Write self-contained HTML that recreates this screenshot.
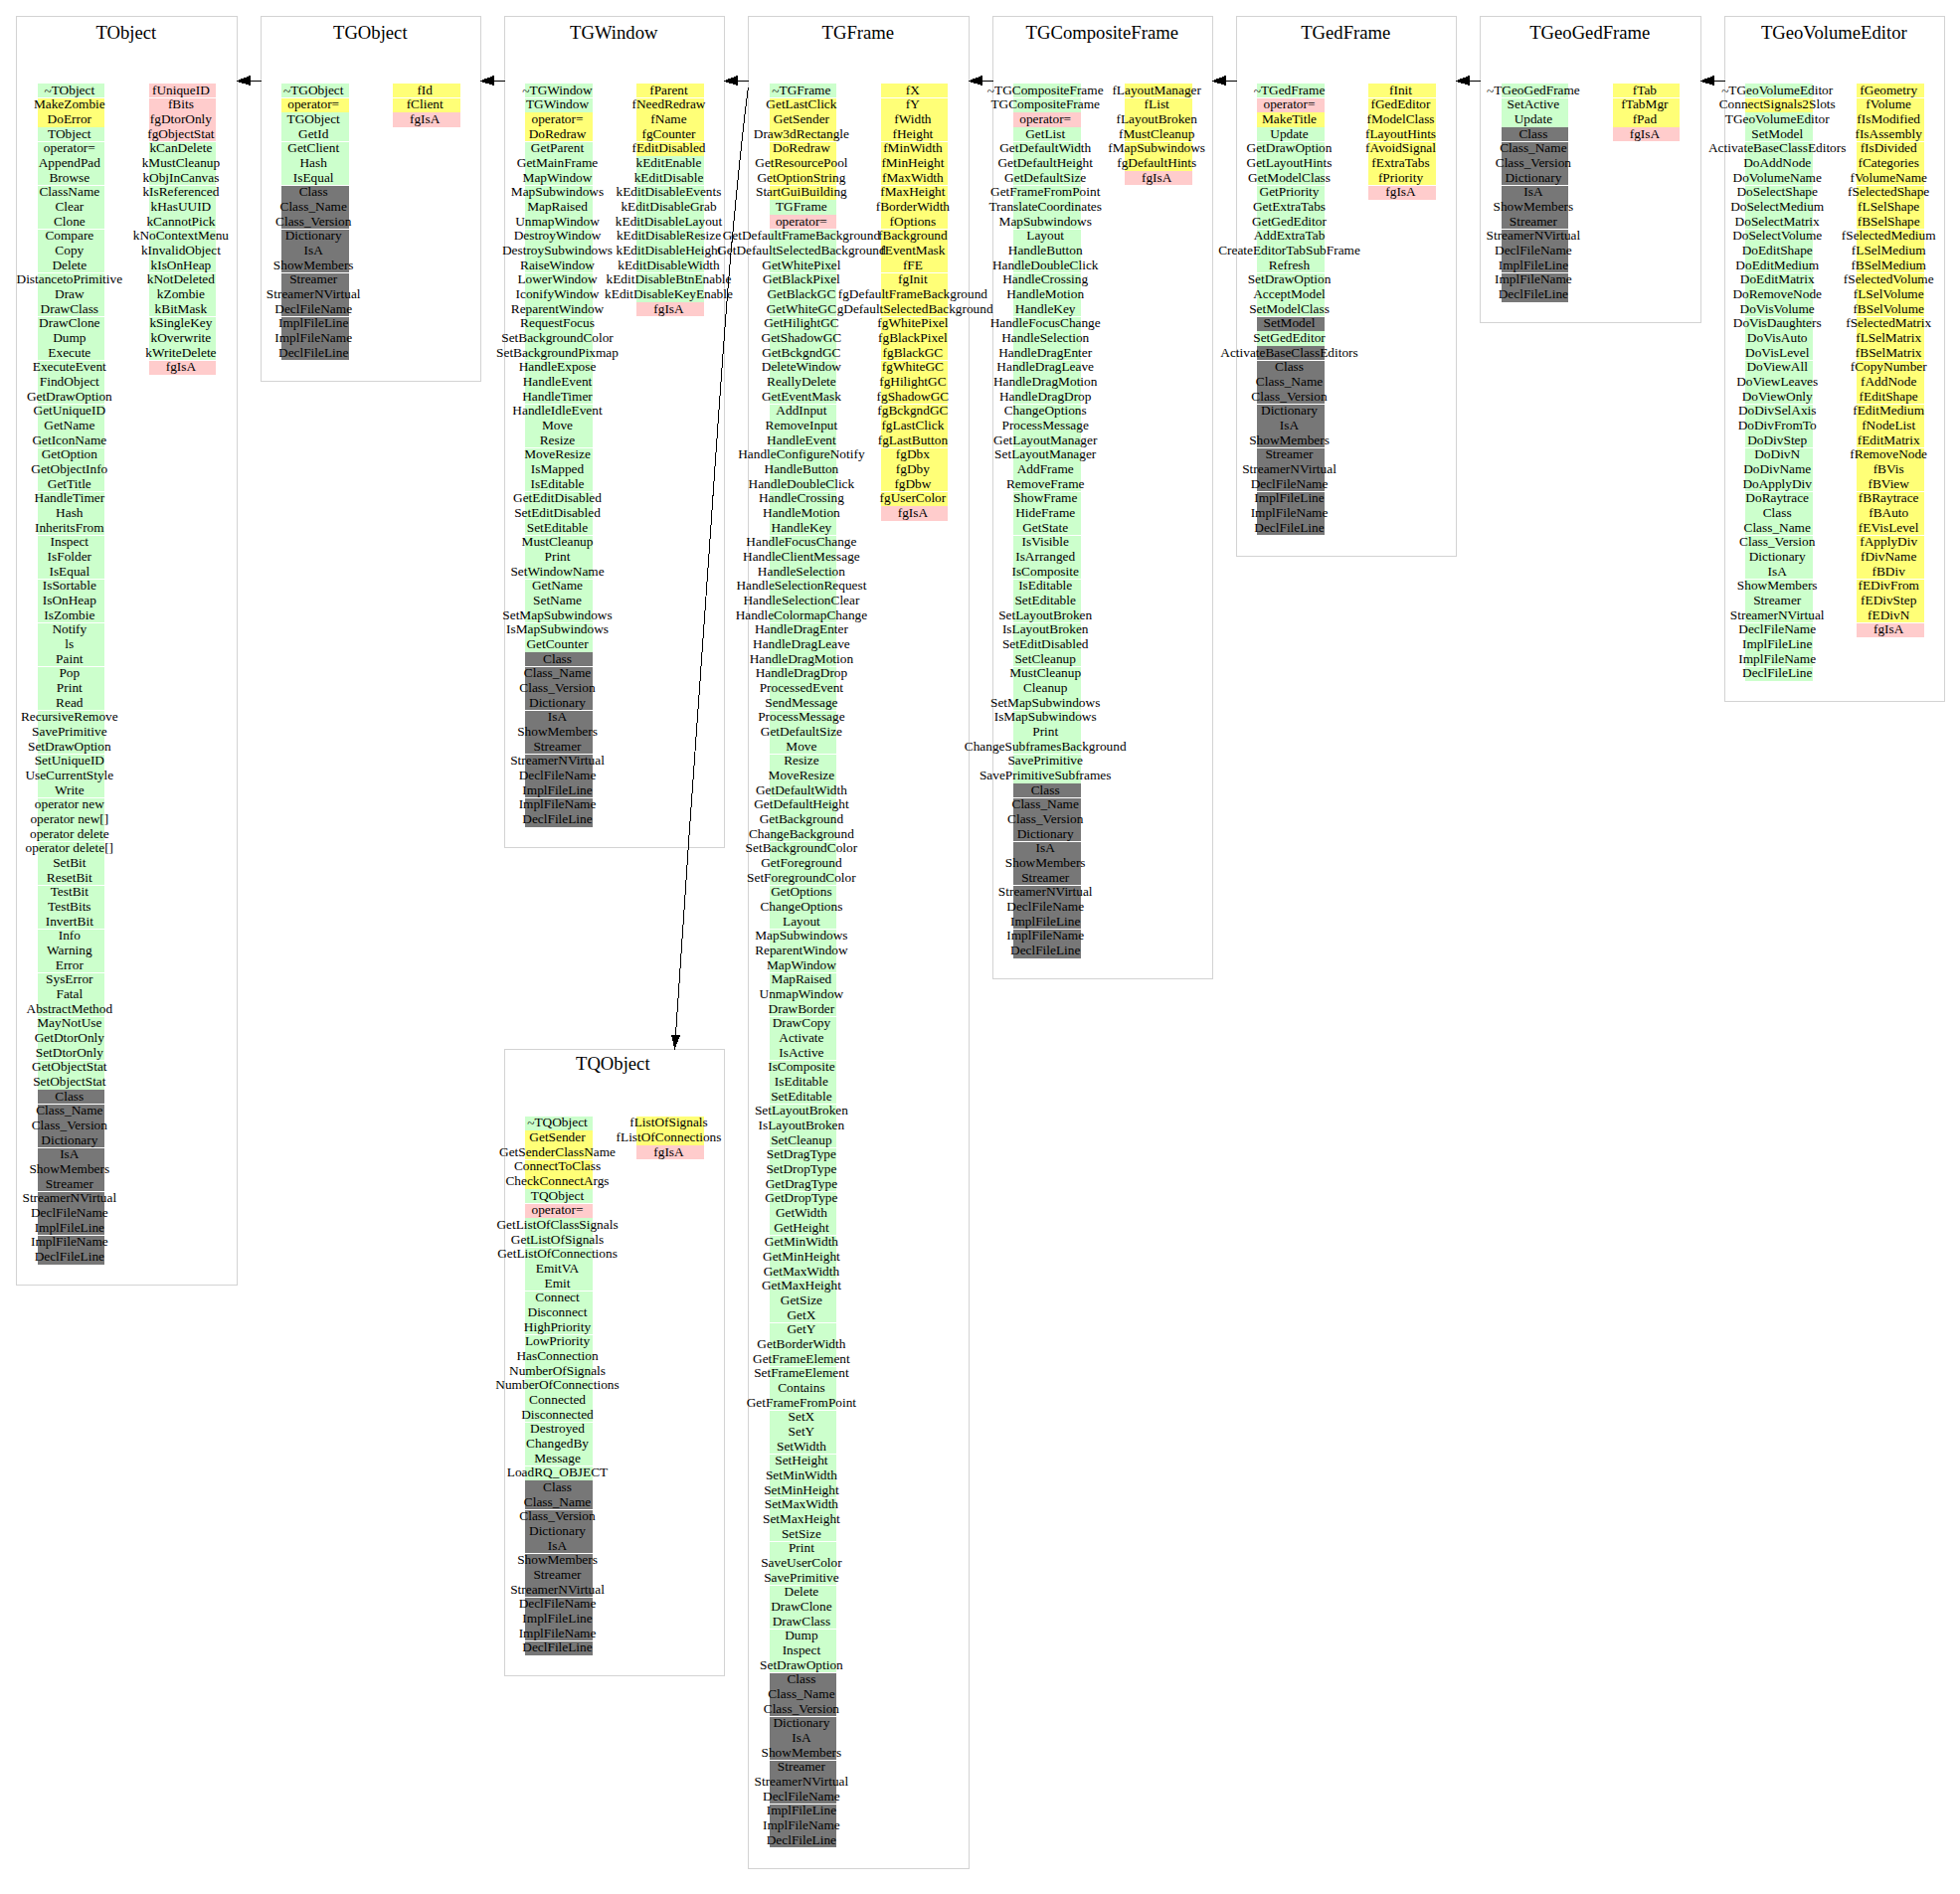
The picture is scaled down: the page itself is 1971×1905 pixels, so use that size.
<!DOCTYPE html>
<html><head><meta charset="utf-8"><title>TGeoVolumeEditor inheritance</title>
<style>
html,body{margin:0;padding:0;background:#fff;}
body{width:1971px;height:1905px;position:relative;overflow:hidden;font-family:"Liberation Serif",serif;color:#000;}
.b{position:absolute;border:1px solid #d3d3d3;box-sizing:border-box;}
.t{position:absolute;text-align:center;white-space:nowrap;font-size:18.67px;line-height:22px;height:22px;}
.r{position:absolute;}
.g{background:#ccffcc}.y{background:#ffff77}.p{background:#ffcccc}.k{background:#777777}
.x{position:absolute;width:300px;text-align:center;white-space:nowrap;font-size:13.33px;line-height:15px;height:15px;}
svg{position:absolute;left:0;top:0;}
.z{position:relative;top:1px;}
#tx{position:absolute;left:0;top:0;width:1971px;height:1905px;opacity:0.999;}
</style></head><body>
<div class="b" style="left:16px;top:16px;width:223px;height:1277px"></div>
<div class="b" style="left:262px;top:16px;width:222px;height:368px"></div>
<div class="b" style="left:507px;top:16px;width:222px;height:837px"></div>
<div class="b" style="left:752px;top:16px;width:223px;height:1864px"></div>
<div class="b" style="left:998px;top:16px;width:222px;height:969px"></div>
<div class="b" style="left:1243px;top:16px;width:222px;height:544px"></div>
<div class="b" style="left:1488px;top:16px;width:223px;height:309px"></div>
<div class="b" style="left:1734px;top:16px;width:222px;height:690px"></div>
<div class="b" style="left:507px;top:1055px;width:222px;height:631px"></div>
<div class="r p" style="left:150px;top:84px;width:67px;height:14px"></div>
<div class="r p" style="left:150px;top:99px;width:67px;height:14px"></div>
<div class="r p" style="left:150px;top:113px;width:67px;height:15px"></div>
<div class="r p" style="left:150px;top:128px;width:67px;height:14px"></div>
<div class="r g" style="left:150px;top:143px;width:67px;height:14px"></div>
<div class="r g" style="left:150px;top:157px;width:67px;height:15px"></div>
<div class="r g" style="left:150px;top:172px;width:67px;height:14px"></div>
<div class="r g" style="left:150px;top:187px;width:67px;height:14px"></div>
<div class="r g" style="left:150px;top:201px;width:67px;height:15px"></div>
<div class="r g" style="left:150px;top:216px;width:67px;height:14px"></div>
<div class="r g" style="left:150px;top:231px;width:67px;height:14px"></div>
<div class="r g" style="left:150px;top:245px;width:67px;height:15px"></div>
<div class="r g" style="left:150px;top:260px;width:67px;height:14px"></div>
<div class="r g" style="left:150px;top:275px;width:67px;height:14px"></div>
<div class="r g" style="left:150px;top:289px;width:67px;height:15px"></div>
<div class="r g" style="left:150px;top:304px;width:67px;height:14px"></div>
<div class="r g" style="left:150px;top:319px;width:67px;height:14px"></div>
<div class="r g" style="left:150px;top:333px;width:67px;height:15px"></div>
<div class="r g" style="left:150px;top:348px;width:67px;height:14px"></div>
<div class="r p" style="left:150px;top:363px;width:67px;height:14px"></div>
<div class="r g" style="left:38px;top:84px;width:67px;height:14px"></div>
<div class="r y" style="left:38px;top:99px;width:67px;height:14px"></div>
<div class="r y" style="left:38px;top:113px;width:67px;height:15px"></div>
<div class="r g" style="left:38px;top:128px;width:67px;height:14px"></div>
<div class="r g" style="left:38px;top:143px;width:67px;height:14px"></div>
<div class="r g" style="left:38px;top:157px;width:67px;height:15px"></div>
<div class="r g" style="left:38px;top:172px;width:67px;height:14px"></div>
<div class="r g" style="left:38px;top:187px;width:67px;height:14px"></div>
<div class="r g" style="left:38px;top:201px;width:67px;height:15px"></div>
<div class="r g" style="left:38px;top:216px;width:67px;height:14px"></div>
<div class="r g" style="left:38px;top:231px;width:67px;height:14px"></div>
<div class="r g" style="left:38px;top:245px;width:67px;height:15px"></div>
<div class="r g" style="left:38px;top:260px;width:67px;height:14px"></div>
<div class="r g" style="left:38px;top:275px;width:67px;height:14px"></div>
<div class="r g" style="left:38px;top:289px;width:67px;height:15px"></div>
<div class="r g" style="left:38px;top:304px;width:67px;height:14px"></div>
<div class="r g" style="left:38px;top:319px;width:67px;height:14px"></div>
<div class="r g" style="left:38px;top:333px;width:67px;height:15px"></div>
<div class="r g" style="left:38px;top:348px;width:67px;height:14px"></div>
<div class="r g" style="left:38px;top:363px;width:67px;height:14px"></div>
<div class="r g" style="left:38px;top:377px;width:67px;height:15px"></div>
<div class="r g" style="left:38px;top:392px;width:67px;height:14px"></div>
<div class="r g" style="left:38px;top:407px;width:67px;height:14px"></div>
<div class="r g" style="left:38px;top:421px;width:67px;height:15px"></div>
<div class="r g" style="left:38px;top:436px;width:67px;height:14px"></div>
<div class="r g" style="left:38px;top:451px;width:67px;height:14px"></div>
<div class="r g" style="left:38px;top:465px;width:67px;height:15px"></div>
<div class="r g" style="left:38px;top:480px;width:67px;height:14px"></div>
<div class="r g" style="left:38px;top:495px;width:67px;height:14px"></div>
<div class="r g" style="left:38px;top:509px;width:67px;height:15px"></div>
<div class="r g" style="left:38px;top:524px;width:67px;height:14px"></div>
<div class="r g" style="left:38px;top:539px;width:67px;height:14px"></div>
<div class="r g" style="left:38px;top:553px;width:67px;height:15px"></div>
<div class="r g" style="left:38px;top:568px;width:67px;height:14px"></div>
<div class="r g" style="left:38px;top:583px;width:67px;height:14px"></div>
<div class="r g" style="left:38px;top:597px;width:67px;height:15px"></div>
<div class="r g" style="left:38px;top:612px;width:67px;height:14px"></div>
<div class="r g" style="left:38px;top:627px;width:67px;height:14px"></div>
<div class="r g" style="left:38px;top:641px;width:67px;height:15px"></div>
<div class="r g" style="left:38px;top:656px;width:67px;height:14px"></div>
<div class="r g" style="left:38px;top:671px;width:67px;height:14px"></div>
<div class="r g" style="left:38px;top:685px;width:67px;height:15px"></div>
<div class="r g" style="left:38px;top:700px;width:67px;height:14px"></div>
<div class="r g" style="left:38px;top:715px;width:67px;height:14px"></div>
<div class="r g" style="left:38px;top:729px;width:67px;height:15px"></div>
<div class="r g" style="left:38px;top:744px;width:67px;height:14px"></div>
<div class="r g" style="left:38px;top:759px;width:67px;height:14px"></div>
<div class="r g" style="left:38px;top:773px;width:67px;height:15px"></div>
<div class="r g" style="left:38px;top:788px;width:67px;height:14px"></div>
<div class="r g" style="left:38px;top:803px;width:67px;height:14px"></div>
<div class="r g" style="left:38px;top:817px;width:67px;height:15px"></div>
<div class="r g" style="left:38px;top:832px;width:67px;height:14px"></div>
<div class="r g" style="left:38px;top:847px;width:67px;height:14px"></div>
<div class="r g" style="left:38px;top:861px;width:67px;height:15px"></div>
<div class="r g" style="left:38px;top:876px;width:67px;height:14px"></div>
<div class="r g" style="left:38px;top:891px;width:67px;height:14px"></div>
<div class="r g" style="left:38px;top:905px;width:67px;height:15px"></div>
<div class="r g" style="left:38px;top:920px;width:67px;height:14px"></div>
<div class="r g" style="left:38px;top:935px;width:67px;height:14px"></div>
<div class="r g" style="left:38px;top:949px;width:67px;height:15px"></div>
<div class="r g" style="left:38px;top:964px;width:67px;height:14px"></div>
<div class="r g" style="left:38px;top:979px;width:67px;height:14px"></div>
<div class="r g" style="left:38px;top:993px;width:67px;height:15px"></div>
<div class="r g" style="left:38px;top:1008px;width:67px;height:14px"></div>
<div class="r g" style="left:38px;top:1023px;width:67px;height:14px"></div>
<div class="r g" style="left:38px;top:1037px;width:67px;height:15px"></div>
<div class="r g" style="left:38px;top:1052px;width:67px;height:14px"></div>
<div class="r g" style="left:38px;top:1067px;width:67px;height:14px"></div>
<div class="r g" style="left:38px;top:1081px;width:67px;height:15px"></div>
<div class="r k" style="left:38px;top:1096px;width:67px;height:14px"></div>
<div class="r k" style="left:38px;top:1111px;width:67px;height:14px"></div>
<div class="r k" style="left:38px;top:1125px;width:67px;height:15px"></div>
<div class="r k" style="left:38px;top:1140px;width:67px;height:14px"></div>
<div class="r k" style="left:38px;top:1155px;width:67px;height:14px"></div>
<div class="r k" style="left:38px;top:1169px;width:67px;height:15px"></div>
<div class="r k" style="left:38px;top:1184px;width:67px;height:14px"></div>
<div class="r k" style="left:38px;top:1199px;width:67px;height:14px"></div>
<div class="r k" style="left:38px;top:1213px;width:67px;height:15px"></div>
<div class="r k" style="left:38px;top:1228px;width:67px;height:14px"></div>
<div class="r k" style="left:38px;top:1243px;width:67px;height:14px"></div>
<div class="r k" style="left:38px;top:1257px;width:67px;height:15px"></div>
<div class="r y" style="left:395px;top:84px;width:68px;height:14px"></div>
<div class="r y" style="left:395px;top:99px;width:68px;height:14px"></div>
<div class="r p" style="left:395px;top:113px;width:68px;height:15px"></div>
<div class="r g" style="left:283px;top:84px;width:68px;height:14px"></div>
<div class="r y" style="left:283px;top:99px;width:68px;height:14px"></div>
<div class="r g" style="left:283px;top:113px;width:68px;height:15px"></div>
<div class="r g" style="left:283px;top:128px;width:68px;height:14px"></div>
<div class="r g" style="left:283px;top:143px;width:68px;height:14px"></div>
<div class="r g" style="left:283px;top:157px;width:68px;height:15px"></div>
<div class="r g" style="left:283px;top:172px;width:68px;height:14px"></div>
<div class="r k" style="left:283px;top:187px;width:68px;height:14px"></div>
<div class="r k" style="left:283px;top:201px;width:68px;height:15px"></div>
<div class="r k" style="left:283px;top:216px;width:68px;height:14px"></div>
<div class="r k" style="left:283px;top:231px;width:68px;height:14px"></div>
<div class="r k" style="left:283px;top:245px;width:68px;height:15px"></div>
<div class="r k" style="left:283px;top:260px;width:68px;height:14px"></div>
<div class="r k" style="left:283px;top:275px;width:68px;height:14px"></div>
<div class="r k" style="left:283px;top:289px;width:68px;height:15px"></div>
<div class="r k" style="left:283px;top:304px;width:68px;height:14px"></div>
<div class="r k" style="left:283px;top:319px;width:68px;height:14px"></div>
<div class="r k" style="left:283px;top:333px;width:68px;height:15px"></div>
<div class="r k" style="left:283px;top:348px;width:68px;height:14px"></div>
<div class="r y" style="left:640px;top:84px;width:68px;height:14px"></div>
<div class="r y" style="left:640px;top:99px;width:68px;height:14px"></div>
<div class="r y" style="left:640px;top:113px;width:68px;height:15px"></div>
<div class="r y" style="left:640px;top:128px;width:68px;height:14px"></div>
<div class="r y" style="left:640px;top:143px;width:68px;height:14px"></div>
<div class="r g" style="left:640px;top:157px;width:68px;height:15px"></div>
<div class="r g" style="left:640px;top:172px;width:68px;height:14px"></div>
<div class="r g" style="left:640px;top:187px;width:68px;height:14px"></div>
<div class="r g" style="left:640px;top:201px;width:68px;height:15px"></div>
<div class="r g" style="left:640px;top:216px;width:68px;height:14px"></div>
<div class="r g" style="left:640px;top:231px;width:68px;height:14px"></div>
<div class="r g" style="left:640px;top:245px;width:68px;height:15px"></div>
<div class="r g" style="left:640px;top:260px;width:68px;height:14px"></div>
<div class="r g" style="left:640px;top:275px;width:68px;height:14px"></div>
<div class="r g" style="left:640px;top:289px;width:68px;height:15px"></div>
<div class="r p" style="left:640px;top:304px;width:68px;height:14px"></div>
<div class="r g" style="left:528px;top:84px;width:68px;height:14px"></div>
<div class="r g" style="left:528px;top:99px;width:68px;height:14px"></div>
<div class="r y" style="left:528px;top:113px;width:68px;height:15px"></div>
<div class="r y" style="left:528px;top:128px;width:68px;height:14px"></div>
<div class="r g" style="left:528px;top:143px;width:68px;height:14px"></div>
<div class="r g" style="left:528px;top:157px;width:68px;height:15px"></div>
<div class="r g" style="left:528px;top:172px;width:68px;height:14px"></div>
<div class="r g" style="left:528px;top:187px;width:68px;height:14px"></div>
<div class="r g" style="left:528px;top:201px;width:68px;height:15px"></div>
<div class="r g" style="left:528px;top:216px;width:68px;height:14px"></div>
<div class="r g" style="left:528px;top:231px;width:68px;height:14px"></div>
<div class="r g" style="left:528px;top:245px;width:68px;height:15px"></div>
<div class="r g" style="left:528px;top:260px;width:68px;height:14px"></div>
<div class="r g" style="left:528px;top:275px;width:68px;height:14px"></div>
<div class="r g" style="left:528px;top:289px;width:68px;height:15px"></div>
<div class="r g" style="left:528px;top:304px;width:68px;height:14px"></div>
<div class="r g" style="left:528px;top:319px;width:68px;height:14px"></div>
<div class="r g" style="left:528px;top:333px;width:68px;height:15px"></div>
<div class="r g" style="left:528px;top:348px;width:68px;height:14px"></div>
<div class="r g" style="left:528px;top:363px;width:68px;height:14px"></div>
<div class="r g" style="left:528px;top:377px;width:68px;height:15px"></div>
<div class="r g" style="left:528px;top:392px;width:68px;height:14px"></div>
<div class="r g" style="left:528px;top:407px;width:68px;height:14px"></div>
<div class="r g" style="left:528px;top:421px;width:68px;height:15px"></div>
<div class="r g" style="left:528px;top:436px;width:68px;height:14px"></div>
<div class="r g" style="left:528px;top:451px;width:68px;height:14px"></div>
<div class="r g" style="left:528px;top:465px;width:68px;height:15px"></div>
<div class="r g" style="left:528px;top:480px;width:68px;height:14px"></div>
<div class="r g" style="left:528px;top:495px;width:68px;height:14px"></div>
<div class="r g" style="left:528px;top:509px;width:68px;height:15px"></div>
<div class="r g" style="left:528px;top:524px;width:68px;height:14px"></div>
<div class="r g" style="left:528px;top:539px;width:68px;height:14px"></div>
<div class="r g" style="left:528px;top:553px;width:68px;height:15px"></div>
<div class="r g" style="left:528px;top:568px;width:68px;height:14px"></div>
<div class="r g" style="left:528px;top:583px;width:68px;height:14px"></div>
<div class="r g" style="left:528px;top:597px;width:68px;height:15px"></div>
<div class="r g" style="left:528px;top:612px;width:68px;height:14px"></div>
<div class="r g" style="left:528px;top:627px;width:68px;height:14px"></div>
<div class="r g" style="left:528px;top:641px;width:68px;height:15px"></div>
<div class="r k" style="left:528px;top:656px;width:68px;height:14px"></div>
<div class="r k" style="left:528px;top:671px;width:68px;height:14px"></div>
<div class="r k" style="left:528px;top:685px;width:68px;height:15px"></div>
<div class="r k" style="left:528px;top:700px;width:68px;height:14px"></div>
<div class="r k" style="left:528px;top:715px;width:68px;height:14px"></div>
<div class="r k" style="left:528px;top:729px;width:68px;height:15px"></div>
<div class="r k" style="left:528px;top:744px;width:68px;height:14px"></div>
<div class="r k" style="left:528px;top:759px;width:68px;height:14px"></div>
<div class="r k" style="left:528px;top:773px;width:68px;height:15px"></div>
<div class="r k" style="left:528px;top:788px;width:68px;height:14px"></div>
<div class="r k" style="left:528px;top:803px;width:68px;height:14px"></div>
<div class="r k" style="left:528px;top:817px;width:68px;height:15px"></div>
<div class="r y" style="left:886px;top:84px;width:67px;height:14px"></div>
<div class="r y" style="left:886px;top:99px;width:67px;height:14px"></div>
<div class="r y" style="left:886px;top:113px;width:67px;height:15px"></div>
<div class="r y" style="left:886px;top:128px;width:67px;height:14px"></div>
<div class="r y" style="left:886px;top:143px;width:67px;height:14px"></div>
<div class="r y" style="left:886px;top:157px;width:67px;height:15px"></div>
<div class="r y" style="left:886px;top:172px;width:67px;height:14px"></div>
<div class="r y" style="left:886px;top:187px;width:67px;height:14px"></div>
<div class="r y" style="left:886px;top:201px;width:67px;height:15px"></div>
<div class="r y" style="left:886px;top:216px;width:67px;height:14px"></div>
<div class="r y" style="left:886px;top:231px;width:67px;height:14px"></div>
<div class="r y" style="left:886px;top:245px;width:67px;height:15px"></div>
<div class="r y" style="left:886px;top:260px;width:67px;height:14px"></div>
<div class="r y" style="left:886px;top:275px;width:67px;height:14px"></div>
<div class="r y" style="left:886px;top:289px;width:67px;height:15px"></div>
<div class="r y" style="left:886px;top:304px;width:67px;height:14px"></div>
<div class="r y" style="left:886px;top:319px;width:67px;height:14px"></div>
<div class="r y" style="left:886px;top:333px;width:67px;height:15px"></div>
<div class="r y" style="left:886px;top:348px;width:67px;height:14px"></div>
<div class="r y" style="left:886px;top:363px;width:67px;height:14px"></div>
<div class="r y" style="left:886px;top:377px;width:67px;height:15px"></div>
<div class="r y" style="left:886px;top:392px;width:67px;height:14px"></div>
<div class="r y" style="left:886px;top:407px;width:67px;height:14px"></div>
<div class="r y" style="left:886px;top:421px;width:67px;height:15px"></div>
<div class="r y" style="left:886px;top:436px;width:67px;height:14px"></div>
<div class="r y" style="left:886px;top:451px;width:67px;height:14px"></div>
<div class="r y" style="left:886px;top:465px;width:67px;height:15px"></div>
<div class="r y" style="left:886px;top:480px;width:67px;height:14px"></div>
<div class="r y" style="left:886px;top:495px;width:67px;height:14px"></div>
<div class="r p" style="left:886px;top:509px;width:67px;height:15px"></div>
<div class="r g" style="left:774px;top:84px;width:67px;height:14px"></div>
<div class="r y" style="left:774px;top:99px;width:67px;height:14px"></div>
<div class="r y" style="left:774px;top:113px;width:67px;height:15px"></div>
<div class="r y" style="left:774px;top:128px;width:67px;height:14px"></div>
<div class="r y" style="left:774px;top:143px;width:67px;height:14px"></div>
<div class="r y" style="left:774px;top:157px;width:67px;height:15px"></div>
<div class="r y" style="left:774px;top:172px;width:67px;height:14px"></div>
<div class="r y" style="left:774px;top:187px;width:67px;height:14px"></div>
<div class="r g" style="left:774px;top:201px;width:67px;height:15px"></div>
<div class="r p" style="left:774px;top:216px;width:67px;height:14px"></div>
<div class="r g" style="left:774px;top:231px;width:67px;height:14px"></div>
<div class="r g" style="left:774px;top:245px;width:67px;height:15px"></div>
<div class="r g" style="left:774px;top:260px;width:67px;height:14px"></div>
<div class="r g" style="left:774px;top:275px;width:67px;height:14px"></div>
<div class="r g" style="left:774px;top:289px;width:67px;height:15px"></div>
<div class="r g" style="left:774px;top:304px;width:67px;height:14px"></div>
<div class="r g" style="left:774px;top:319px;width:67px;height:14px"></div>
<div class="r g" style="left:774px;top:333px;width:67px;height:15px"></div>
<div class="r g" style="left:774px;top:348px;width:67px;height:14px"></div>
<div class="r g" style="left:774px;top:363px;width:67px;height:14px"></div>
<div class="r g" style="left:774px;top:377px;width:67px;height:15px"></div>
<div class="r g" style="left:774px;top:392px;width:67px;height:14px"></div>
<div class="r g" style="left:774px;top:407px;width:67px;height:14px"></div>
<div class="r g" style="left:774px;top:421px;width:67px;height:15px"></div>
<div class="r g" style="left:774px;top:436px;width:67px;height:14px"></div>
<div class="r g" style="left:774px;top:451px;width:67px;height:14px"></div>
<div class="r g" style="left:774px;top:465px;width:67px;height:15px"></div>
<div class="r g" style="left:774px;top:480px;width:67px;height:14px"></div>
<div class="r g" style="left:774px;top:495px;width:67px;height:14px"></div>
<div class="r g" style="left:774px;top:509px;width:67px;height:15px"></div>
<div class="r g" style="left:774px;top:524px;width:67px;height:14px"></div>
<div class="r g" style="left:774px;top:539px;width:67px;height:14px"></div>
<div class="r g" style="left:774px;top:553px;width:67px;height:15px"></div>
<div class="r g" style="left:774px;top:568px;width:67px;height:14px"></div>
<div class="r g" style="left:774px;top:583px;width:67px;height:14px"></div>
<div class="r g" style="left:774px;top:597px;width:67px;height:15px"></div>
<div class="r g" style="left:774px;top:612px;width:67px;height:14px"></div>
<div class="r g" style="left:774px;top:627px;width:67px;height:14px"></div>
<div class="r g" style="left:774px;top:641px;width:67px;height:15px"></div>
<div class="r g" style="left:774px;top:656px;width:67px;height:14px"></div>
<div class="r g" style="left:774px;top:671px;width:67px;height:14px"></div>
<div class="r g" style="left:774px;top:685px;width:67px;height:15px"></div>
<div class="r g" style="left:774px;top:700px;width:67px;height:14px"></div>
<div class="r g" style="left:774px;top:715px;width:67px;height:14px"></div>
<div class="r g" style="left:774px;top:729px;width:67px;height:15px"></div>
<div class="r g" style="left:774px;top:744px;width:67px;height:14px"></div>
<div class="r g" style="left:774px;top:759px;width:67px;height:14px"></div>
<div class="r g" style="left:774px;top:773px;width:67px;height:15px"></div>
<div class="r g" style="left:774px;top:788px;width:67px;height:14px"></div>
<div class="r g" style="left:774px;top:803px;width:67px;height:14px"></div>
<div class="r g" style="left:774px;top:817px;width:67px;height:15px"></div>
<div class="r g" style="left:774px;top:832px;width:67px;height:14px"></div>
<div class="r g" style="left:774px;top:847px;width:67px;height:14px"></div>
<div class="r g" style="left:774px;top:861px;width:67px;height:15px"></div>
<div class="r g" style="left:774px;top:876px;width:67px;height:14px"></div>
<div class="r g" style="left:774px;top:891px;width:67px;height:14px"></div>
<div class="r g" style="left:774px;top:905px;width:67px;height:15px"></div>
<div class="r g" style="left:774px;top:920px;width:67px;height:14px"></div>
<div class="r g" style="left:774px;top:935px;width:67px;height:14px"></div>
<div class="r g" style="left:774px;top:949px;width:67px;height:15px"></div>
<div class="r g" style="left:774px;top:964px;width:67px;height:14px"></div>
<div class="r g" style="left:774px;top:979px;width:67px;height:14px"></div>
<div class="r g" style="left:774px;top:993px;width:67px;height:15px"></div>
<div class="r g" style="left:774px;top:1008px;width:67px;height:14px"></div>
<div class="r g" style="left:774px;top:1023px;width:67px;height:14px"></div>
<div class="r g" style="left:774px;top:1037px;width:67px;height:15px"></div>
<div class="r g" style="left:774px;top:1052px;width:67px;height:14px"></div>
<div class="r g" style="left:774px;top:1067px;width:67px;height:14px"></div>
<div class="r g" style="left:774px;top:1081px;width:67px;height:15px"></div>
<div class="r g" style="left:774px;top:1096px;width:67px;height:14px"></div>
<div class="r g" style="left:774px;top:1111px;width:67px;height:14px"></div>
<div class="r g" style="left:774px;top:1125px;width:67px;height:15px"></div>
<div class="r g" style="left:774px;top:1140px;width:67px;height:14px"></div>
<div class="r g" style="left:774px;top:1155px;width:67px;height:14px"></div>
<div class="r g" style="left:774px;top:1169px;width:67px;height:15px"></div>
<div class="r g" style="left:774px;top:1184px;width:67px;height:14px"></div>
<div class="r g" style="left:774px;top:1199px;width:67px;height:14px"></div>
<div class="r g" style="left:774px;top:1213px;width:67px;height:15px"></div>
<div class="r g" style="left:774px;top:1228px;width:67px;height:14px"></div>
<div class="r g" style="left:774px;top:1243px;width:67px;height:14px"></div>
<div class="r g" style="left:774px;top:1257px;width:67px;height:15px"></div>
<div class="r g" style="left:774px;top:1272px;width:67px;height:14px"></div>
<div class="r g" style="left:774px;top:1287px;width:67px;height:14px"></div>
<div class="r g" style="left:774px;top:1301px;width:67px;height:15px"></div>
<div class="r g" style="left:774px;top:1316px;width:67px;height:14px"></div>
<div class="r g" style="left:774px;top:1331px;width:67px;height:14px"></div>
<div class="r g" style="left:774px;top:1345px;width:67px;height:15px"></div>
<div class="r g" style="left:774px;top:1360px;width:67px;height:14px"></div>
<div class="r g" style="left:774px;top:1375px;width:67px;height:14px"></div>
<div class="r g" style="left:774px;top:1389px;width:67px;height:15px"></div>
<div class="r g" style="left:774px;top:1404px;width:67px;height:14px"></div>
<div class="r g" style="left:774px;top:1419px;width:67px;height:14px"></div>
<div class="r g" style="left:774px;top:1433px;width:67px;height:15px"></div>
<div class="r g" style="left:774px;top:1448px;width:67px;height:14px"></div>
<div class="r g" style="left:774px;top:1463px;width:67px;height:14px"></div>
<div class="r g" style="left:774px;top:1477px;width:67px;height:15px"></div>
<div class="r g" style="left:774px;top:1492px;width:67px;height:14px"></div>
<div class="r g" style="left:774px;top:1507px;width:67px;height:14px"></div>
<div class="r g" style="left:774px;top:1521px;width:67px;height:15px"></div>
<div class="r g" style="left:774px;top:1536px;width:67px;height:14px"></div>
<div class="r g" style="left:774px;top:1551px;width:67px;height:14px"></div>
<div class="r g" style="left:774px;top:1565px;width:67px;height:15px"></div>
<div class="r g" style="left:774px;top:1580px;width:67px;height:14px"></div>
<div class="r g" style="left:774px;top:1595px;width:67px;height:14px"></div>
<div class="r g" style="left:774px;top:1609px;width:67px;height:15px"></div>
<div class="r g" style="left:774px;top:1624px;width:67px;height:14px"></div>
<div class="r g" style="left:774px;top:1639px;width:67px;height:14px"></div>
<div class="r g" style="left:774px;top:1653px;width:67px;height:15px"></div>
<div class="r g" style="left:774px;top:1668px;width:67px;height:14px"></div>
<div class="r k" style="left:774px;top:1683px;width:67px;height:14px"></div>
<div class="r k" style="left:774px;top:1697px;width:67px;height:15px"></div>
<div class="r k" style="left:774px;top:1712px;width:67px;height:14px"></div>
<div class="r k" style="left:774px;top:1727px;width:67px;height:14px"></div>
<div class="r k" style="left:774px;top:1741px;width:67px;height:15px"></div>
<div class="r k" style="left:774px;top:1756px;width:67px;height:14px"></div>
<div class="r k" style="left:774px;top:1771px;width:67px;height:14px"></div>
<div class="r k" style="left:774px;top:1785px;width:67px;height:15px"></div>
<div class="r k" style="left:774px;top:1800px;width:67px;height:14px"></div>
<div class="r k" style="left:774px;top:1815px;width:67px;height:14px"></div>
<div class="r k" style="left:774px;top:1829px;width:67px;height:15px"></div>
<div class="r k" style="left:774px;top:1844px;width:67px;height:14px"></div>
<div class="r y" style="left:1131px;top:84px;width:68px;height:14px"></div>
<div class="r y" style="left:1131px;top:99px;width:68px;height:14px"></div>
<div class="r y" style="left:1131px;top:113px;width:68px;height:15px"></div>
<div class="r y" style="left:1131px;top:128px;width:68px;height:14px"></div>
<div class="r y" style="left:1131px;top:143px;width:68px;height:14px"></div>
<div class="r y" style="left:1131px;top:157px;width:68px;height:15px"></div>
<div class="r p" style="left:1131px;top:172px;width:68px;height:14px"></div>
<div class="r g" style="left:1019px;top:84px;width:68px;height:14px"></div>
<div class="r g" style="left:1019px;top:99px;width:68px;height:14px"></div>
<div class="r p" style="left:1019px;top:113px;width:68px;height:15px"></div>
<div class="r g" style="left:1019px;top:128px;width:68px;height:14px"></div>
<div class="r g" style="left:1019px;top:143px;width:68px;height:14px"></div>
<div class="r g" style="left:1019px;top:157px;width:68px;height:15px"></div>
<div class="r g" style="left:1019px;top:172px;width:68px;height:14px"></div>
<div class="r g" style="left:1019px;top:187px;width:68px;height:14px"></div>
<div class="r g" style="left:1019px;top:201px;width:68px;height:15px"></div>
<div class="r g" style="left:1019px;top:216px;width:68px;height:14px"></div>
<div class="r g" style="left:1019px;top:231px;width:68px;height:14px"></div>
<div class="r g" style="left:1019px;top:245px;width:68px;height:15px"></div>
<div class="r g" style="left:1019px;top:260px;width:68px;height:14px"></div>
<div class="r g" style="left:1019px;top:275px;width:68px;height:14px"></div>
<div class="r g" style="left:1019px;top:289px;width:68px;height:15px"></div>
<div class="r g" style="left:1019px;top:304px;width:68px;height:14px"></div>
<div class="r g" style="left:1019px;top:319px;width:68px;height:14px"></div>
<div class="r g" style="left:1019px;top:333px;width:68px;height:15px"></div>
<div class="r g" style="left:1019px;top:348px;width:68px;height:14px"></div>
<div class="r g" style="left:1019px;top:363px;width:68px;height:14px"></div>
<div class="r g" style="left:1019px;top:377px;width:68px;height:15px"></div>
<div class="r g" style="left:1019px;top:392px;width:68px;height:14px"></div>
<div class="r g" style="left:1019px;top:407px;width:68px;height:14px"></div>
<div class="r g" style="left:1019px;top:421px;width:68px;height:15px"></div>
<div class="r g" style="left:1019px;top:436px;width:68px;height:14px"></div>
<div class="r g" style="left:1019px;top:451px;width:68px;height:14px"></div>
<div class="r g" style="left:1019px;top:465px;width:68px;height:15px"></div>
<div class="r g" style="left:1019px;top:480px;width:68px;height:14px"></div>
<div class="r g" style="left:1019px;top:495px;width:68px;height:14px"></div>
<div class="r g" style="left:1019px;top:509px;width:68px;height:15px"></div>
<div class="r g" style="left:1019px;top:524px;width:68px;height:14px"></div>
<div class="r g" style="left:1019px;top:539px;width:68px;height:14px"></div>
<div class="r g" style="left:1019px;top:553px;width:68px;height:15px"></div>
<div class="r g" style="left:1019px;top:568px;width:68px;height:14px"></div>
<div class="r g" style="left:1019px;top:583px;width:68px;height:14px"></div>
<div class="r g" style="left:1019px;top:597px;width:68px;height:15px"></div>
<div class="r g" style="left:1019px;top:612px;width:68px;height:14px"></div>
<div class="r g" style="left:1019px;top:627px;width:68px;height:14px"></div>
<div class="r g" style="left:1019px;top:641px;width:68px;height:15px"></div>
<div class="r g" style="left:1019px;top:656px;width:68px;height:14px"></div>
<div class="r g" style="left:1019px;top:671px;width:68px;height:14px"></div>
<div class="r g" style="left:1019px;top:685px;width:68px;height:15px"></div>
<div class="r g" style="left:1019px;top:700px;width:68px;height:14px"></div>
<div class="r g" style="left:1019px;top:715px;width:68px;height:14px"></div>
<div class="r g" style="left:1019px;top:729px;width:68px;height:15px"></div>
<div class="r g" style="left:1019px;top:744px;width:68px;height:14px"></div>
<div class="r g" style="left:1019px;top:759px;width:68px;height:14px"></div>
<div class="r g" style="left:1019px;top:773px;width:68px;height:15px"></div>
<div class="r k" style="left:1019px;top:788px;width:68px;height:14px"></div>
<div class="r k" style="left:1019px;top:803px;width:68px;height:14px"></div>
<div class="r k" style="left:1019px;top:817px;width:68px;height:15px"></div>
<div class="r k" style="left:1019px;top:832px;width:68px;height:14px"></div>
<div class="r k" style="left:1019px;top:847px;width:68px;height:14px"></div>
<div class="r k" style="left:1019px;top:861px;width:68px;height:15px"></div>
<div class="r k" style="left:1019px;top:876px;width:68px;height:14px"></div>
<div class="r k" style="left:1019px;top:891px;width:68px;height:14px"></div>
<div class="r k" style="left:1019px;top:905px;width:68px;height:15px"></div>
<div class="r k" style="left:1019px;top:920px;width:68px;height:14px"></div>
<div class="r k" style="left:1019px;top:935px;width:68px;height:14px"></div>
<div class="r k" style="left:1019px;top:949px;width:68px;height:15px"></div>
<div class="r y" style="left:1376px;top:84px;width:68px;height:14px"></div>
<div class="r y" style="left:1376px;top:99px;width:68px;height:14px"></div>
<div class="r y" style="left:1376px;top:113px;width:68px;height:15px"></div>
<div class="r y" style="left:1376px;top:128px;width:68px;height:14px"></div>
<div class="r y" style="left:1376px;top:143px;width:68px;height:14px"></div>
<div class="r y" style="left:1376px;top:157px;width:68px;height:15px"></div>
<div class="r y" style="left:1376px;top:172px;width:68px;height:14px"></div>
<div class="r p" style="left:1376px;top:187px;width:68px;height:14px"></div>
<div class="r g" style="left:1264px;top:84px;width:68px;height:14px"></div>
<div class="r p" style="left:1264px;top:99px;width:68px;height:14px"></div>
<div class="r y" style="left:1264px;top:113px;width:68px;height:15px"></div>
<div class="r g" style="left:1264px;top:128px;width:68px;height:14px"></div>
<div class="r g" style="left:1264px;top:143px;width:68px;height:14px"></div>
<div class="r g" style="left:1264px;top:157px;width:68px;height:15px"></div>
<div class="r g" style="left:1264px;top:172px;width:68px;height:14px"></div>
<div class="r g" style="left:1264px;top:187px;width:68px;height:14px"></div>
<div class="r g" style="left:1264px;top:201px;width:68px;height:15px"></div>
<div class="r g" style="left:1264px;top:216px;width:68px;height:14px"></div>
<div class="r g" style="left:1264px;top:231px;width:68px;height:14px"></div>
<div class="r g" style="left:1264px;top:245px;width:68px;height:15px"></div>
<div class="r g" style="left:1264px;top:260px;width:68px;height:14px"></div>
<div class="r g" style="left:1264px;top:275px;width:68px;height:14px"></div>
<div class="r g" style="left:1264px;top:289px;width:68px;height:15px"></div>
<div class="r g" style="left:1264px;top:304px;width:68px;height:14px"></div>
<div class="r k" style="left:1264px;top:319px;width:68px;height:14px"></div>
<div class="r g" style="left:1264px;top:333px;width:68px;height:15px"></div>
<div class="r k" style="left:1264px;top:348px;width:68px;height:14px"></div>
<div class="r k" style="left:1264px;top:363px;width:68px;height:14px"></div>
<div class="r k" style="left:1264px;top:377px;width:68px;height:15px"></div>
<div class="r k" style="left:1264px;top:392px;width:68px;height:14px"></div>
<div class="r k" style="left:1264px;top:407px;width:68px;height:14px"></div>
<div class="r k" style="left:1264px;top:421px;width:68px;height:15px"></div>
<div class="r k" style="left:1264px;top:436px;width:68px;height:14px"></div>
<div class="r k" style="left:1264px;top:451px;width:68px;height:14px"></div>
<div class="r k" style="left:1264px;top:465px;width:68px;height:15px"></div>
<div class="r k" style="left:1264px;top:480px;width:68px;height:14px"></div>
<div class="r k" style="left:1264px;top:495px;width:68px;height:14px"></div>
<div class="r k" style="left:1264px;top:509px;width:68px;height:15px"></div>
<div class="r k" style="left:1264px;top:524px;width:68px;height:14px"></div>
<div class="r y" style="left:1622px;top:84px;width:67px;height:14px"></div>
<div class="r y" style="left:1622px;top:99px;width:67px;height:14px"></div>
<div class="r y" style="left:1622px;top:113px;width:67px;height:15px"></div>
<div class="r p" style="left:1622px;top:128px;width:67px;height:14px"></div>
<div class="r g" style="left:1510px;top:84px;width:67px;height:14px"></div>
<div class="r g" style="left:1510px;top:99px;width:67px;height:14px"></div>
<div class="r g" style="left:1510px;top:113px;width:67px;height:15px"></div>
<div class="r k" style="left:1510px;top:128px;width:67px;height:14px"></div>
<div class="r k" style="left:1510px;top:143px;width:67px;height:14px"></div>
<div class="r k" style="left:1510px;top:157px;width:67px;height:15px"></div>
<div class="r k" style="left:1510px;top:172px;width:67px;height:14px"></div>
<div class="r k" style="left:1510px;top:187px;width:67px;height:14px"></div>
<div class="r k" style="left:1510px;top:201px;width:67px;height:15px"></div>
<div class="r k" style="left:1510px;top:216px;width:67px;height:14px"></div>
<div class="r k" style="left:1510px;top:231px;width:67px;height:14px"></div>
<div class="r k" style="left:1510px;top:245px;width:67px;height:15px"></div>
<div class="r k" style="left:1510px;top:260px;width:67px;height:14px"></div>
<div class="r k" style="left:1510px;top:275px;width:67px;height:14px"></div>
<div class="r k" style="left:1510px;top:289px;width:67px;height:15px"></div>
<div class="r y" style="left:1867px;top:84px;width:68px;height:14px"></div>
<div class="r y" style="left:1867px;top:99px;width:68px;height:14px"></div>
<div class="r y" style="left:1867px;top:113px;width:68px;height:15px"></div>
<div class="r y" style="left:1867px;top:128px;width:68px;height:14px"></div>
<div class="r y" style="left:1867px;top:143px;width:68px;height:14px"></div>
<div class="r y" style="left:1867px;top:157px;width:68px;height:15px"></div>
<div class="r y" style="left:1867px;top:172px;width:68px;height:14px"></div>
<div class="r y" style="left:1867px;top:187px;width:68px;height:14px"></div>
<div class="r y" style="left:1867px;top:201px;width:68px;height:15px"></div>
<div class="r y" style="left:1867px;top:216px;width:68px;height:14px"></div>
<div class="r y" style="left:1867px;top:231px;width:68px;height:14px"></div>
<div class="r y" style="left:1867px;top:245px;width:68px;height:15px"></div>
<div class="r y" style="left:1867px;top:260px;width:68px;height:14px"></div>
<div class="r y" style="left:1867px;top:275px;width:68px;height:14px"></div>
<div class="r y" style="left:1867px;top:289px;width:68px;height:15px"></div>
<div class="r y" style="left:1867px;top:304px;width:68px;height:14px"></div>
<div class="r y" style="left:1867px;top:319px;width:68px;height:14px"></div>
<div class="r y" style="left:1867px;top:333px;width:68px;height:15px"></div>
<div class="r y" style="left:1867px;top:348px;width:68px;height:14px"></div>
<div class="r y" style="left:1867px;top:363px;width:68px;height:14px"></div>
<div class="r y" style="left:1867px;top:377px;width:68px;height:15px"></div>
<div class="r y" style="left:1867px;top:392px;width:68px;height:14px"></div>
<div class="r y" style="left:1867px;top:407px;width:68px;height:14px"></div>
<div class="r y" style="left:1867px;top:421px;width:68px;height:15px"></div>
<div class="r y" style="left:1867px;top:436px;width:68px;height:14px"></div>
<div class="r y" style="left:1867px;top:451px;width:68px;height:14px"></div>
<div class="r y" style="left:1867px;top:465px;width:68px;height:15px"></div>
<div class="r y" style="left:1867px;top:480px;width:68px;height:14px"></div>
<div class="r y" style="left:1867px;top:495px;width:68px;height:14px"></div>
<div class="r y" style="left:1867px;top:509px;width:68px;height:15px"></div>
<div class="r y" style="left:1867px;top:524px;width:68px;height:14px"></div>
<div class="r y" style="left:1867px;top:539px;width:68px;height:14px"></div>
<div class="r y" style="left:1867px;top:553px;width:68px;height:15px"></div>
<div class="r y" style="left:1867px;top:568px;width:68px;height:14px"></div>
<div class="r y" style="left:1867px;top:583px;width:68px;height:14px"></div>
<div class="r y" style="left:1867px;top:597px;width:68px;height:15px"></div>
<div class="r y" style="left:1867px;top:612px;width:68px;height:14px"></div>
<div class="r p" style="left:1867px;top:627px;width:68px;height:14px"></div>
<div class="r g" style="left:1755px;top:84px;width:68px;height:14px"></div>
<div class="r y" style="left:1755px;top:99px;width:68px;height:14px"></div>
<div class="r g" style="left:1755px;top:113px;width:68px;height:15px"></div>
<div class="r g" style="left:1755px;top:128px;width:68px;height:14px"></div>
<div class="r g" style="left:1755px;top:143px;width:68px;height:14px"></div>
<div class="r g" style="left:1755px;top:157px;width:68px;height:15px"></div>
<div class="r g" style="left:1755px;top:172px;width:68px;height:14px"></div>
<div class="r g" style="left:1755px;top:187px;width:68px;height:14px"></div>
<div class="r g" style="left:1755px;top:201px;width:68px;height:15px"></div>
<div class="r g" style="left:1755px;top:216px;width:68px;height:14px"></div>
<div class="r g" style="left:1755px;top:231px;width:68px;height:14px"></div>
<div class="r g" style="left:1755px;top:245px;width:68px;height:15px"></div>
<div class="r g" style="left:1755px;top:260px;width:68px;height:14px"></div>
<div class="r g" style="left:1755px;top:275px;width:68px;height:14px"></div>
<div class="r g" style="left:1755px;top:289px;width:68px;height:15px"></div>
<div class="r g" style="left:1755px;top:304px;width:68px;height:14px"></div>
<div class="r g" style="left:1755px;top:319px;width:68px;height:14px"></div>
<div class="r g" style="left:1755px;top:333px;width:68px;height:15px"></div>
<div class="r g" style="left:1755px;top:348px;width:68px;height:14px"></div>
<div class="r g" style="left:1755px;top:363px;width:68px;height:14px"></div>
<div class="r g" style="left:1755px;top:377px;width:68px;height:15px"></div>
<div class="r g" style="left:1755px;top:392px;width:68px;height:14px"></div>
<div class="r g" style="left:1755px;top:407px;width:68px;height:14px"></div>
<div class="r g" style="left:1755px;top:421px;width:68px;height:15px"></div>
<div class="r g" style="left:1755px;top:436px;width:68px;height:14px"></div>
<div class="r g" style="left:1755px;top:451px;width:68px;height:14px"></div>
<div class="r g" style="left:1755px;top:465px;width:68px;height:15px"></div>
<div class="r g" style="left:1755px;top:480px;width:68px;height:14px"></div>
<div class="r g" style="left:1755px;top:495px;width:68px;height:14px"></div>
<div class="r g" style="left:1755px;top:509px;width:68px;height:15px"></div>
<div class="r g" style="left:1755px;top:524px;width:68px;height:14px"></div>
<div class="r g" style="left:1755px;top:539px;width:68px;height:14px"></div>
<div class="r g" style="left:1755px;top:553px;width:68px;height:15px"></div>
<div class="r g" style="left:1755px;top:568px;width:68px;height:14px"></div>
<div class="r g" style="left:1755px;top:583px;width:68px;height:14px"></div>
<div class="r g" style="left:1755px;top:597px;width:68px;height:15px"></div>
<div class="r g" style="left:1755px;top:612px;width:68px;height:14px"></div>
<div class="r g" style="left:1755px;top:627px;width:68px;height:14px"></div>
<div class="r g" style="left:1755px;top:641px;width:68px;height:15px"></div>
<div class="r g" style="left:1755px;top:656px;width:68px;height:14px"></div>
<div class="r g" style="left:1755px;top:671px;width:68px;height:14px"></div>
<div class="r y" style="left:640px;top:1123px;width:68px;height:14px"></div>
<div class="r y" style="left:640px;top:1137px;width:68px;height:15px"></div>
<div class="r p" style="left:640px;top:1152px;width:68px;height:14px"></div>
<div class="r g" style="left:528px;top:1123px;width:68px;height:14px"></div>
<div class="r y" style="left:528px;top:1137px;width:68px;height:15px"></div>
<div class="r y" style="left:528px;top:1152px;width:68px;height:14px"></div>
<div class="r y" style="left:528px;top:1167px;width:68px;height:14px"></div>
<div class="r y" style="left:528px;top:1181px;width:68px;height:15px"></div>
<div class="r g" style="left:528px;top:1196px;width:68px;height:14px"></div>
<div class="r p" style="left:528px;top:1211px;width:68px;height:14px"></div>
<div class="r g" style="left:528px;top:1225px;width:68px;height:15px"></div>
<div class="r g" style="left:528px;top:1240px;width:68px;height:14px"></div>
<div class="r g" style="left:528px;top:1255px;width:68px;height:14px"></div>
<div class="r g" style="left:528px;top:1269px;width:68px;height:15px"></div>
<div class="r g" style="left:528px;top:1284px;width:68px;height:14px"></div>
<div class="r g" style="left:528px;top:1299px;width:68px;height:14px"></div>
<div class="r g" style="left:528px;top:1313px;width:68px;height:15px"></div>
<div class="r g" style="left:528px;top:1328px;width:68px;height:14px"></div>
<div class="r g" style="left:528px;top:1343px;width:68px;height:14px"></div>
<div class="r g" style="left:528px;top:1357px;width:68px;height:15px"></div>
<div class="r g" style="left:528px;top:1372px;width:68px;height:14px"></div>
<div class="r g" style="left:528px;top:1387px;width:68px;height:14px"></div>
<div class="r g" style="left:528px;top:1401px;width:68px;height:15px"></div>
<div class="r g" style="left:528px;top:1416px;width:68px;height:14px"></div>
<div class="r g" style="left:528px;top:1431px;width:68px;height:14px"></div>
<div class="r g" style="left:528px;top:1445px;width:68px;height:15px"></div>
<div class="r g" style="left:528px;top:1460px;width:68px;height:14px"></div>
<div class="r g" style="left:528px;top:1475px;width:68px;height:14px"></div>
<div class="r k" style="left:528px;top:1489px;width:68px;height:15px"></div>
<div class="r k" style="left:528px;top:1504px;width:68px;height:14px"></div>
<div class="r k" style="left:528px;top:1519px;width:68px;height:14px"></div>
<div class="r k" style="left:528px;top:1533px;width:68px;height:15px"></div>
<div class="r k" style="left:528px;top:1548px;width:68px;height:14px"></div>
<div class="r k" style="left:528px;top:1563px;width:68px;height:14px"></div>
<div class="r k" style="left:528px;top:1577px;width:68px;height:15px"></div>
<div class="r k" style="left:528px;top:1592px;width:68px;height:14px"></div>
<div class="r k" style="left:528px;top:1607px;width:68px;height:14px"></div>
<div class="r k" style="left:528px;top:1621px;width:68px;height:15px"></div>
<div class="r k" style="left:528px;top:1636px;width:68px;height:14px"></div>
<div class="r k" style="left:528px;top:1651px;width:68px;height:14px"></div>
<svg width="1971" height="1905" viewBox="0 0 1971 1905" shape-rendering="crispEdges"><rect x="238" y="81" width="25" height="1" fill="#000"/><rect x="240" y="80" width="2" height="3" fill="#000"/><rect x="242" y="79" width="1" height="4" fill="#000"/><rect x="243" y="79" width="2" height="5" fill="#000"/><rect x="245" y="78" width="2" height="6" fill="#000"/><rect x="247" y="78" width="1" height="7" fill="#000"/><rect x="248" y="77" width="2" height="8" fill="#000"/><rect x="250" y="76" width="2" height="10" fill="#000"/><rect x="483" y="81" width="25" height="1" fill="#000"/><rect x="485" y="80" width="2" height="3" fill="#000"/><rect x="487" y="79" width="1" height="4" fill="#000"/><rect x="488" y="79" width="2" height="5" fill="#000"/><rect x="490" y="78" width="2" height="6" fill="#000"/><rect x="492" y="78" width="1" height="7" fill="#000"/><rect x="493" y="77" width="2" height="8" fill="#000"/><rect x="495" y="76" width="2" height="10" fill="#000"/><rect x="728" y="81" width="25" height="1" fill="#000"/><rect x="730" y="80" width="2" height="3" fill="#000"/><rect x="732" y="79" width="1" height="4" fill="#000"/><rect x="733" y="79" width="2" height="5" fill="#000"/><rect x="735" y="78" width="2" height="6" fill="#000"/><rect x="737" y="78" width="1" height="7" fill="#000"/><rect x="738" y="77" width="2" height="8" fill="#000"/><rect x="740" y="76" width="2" height="10" fill="#000"/><rect x="974" y="81" width="25" height="1" fill="#000"/><rect x="976" y="80" width="2" height="3" fill="#000"/><rect x="978" y="79" width="1" height="4" fill="#000"/><rect x="979" y="79" width="2" height="5" fill="#000"/><rect x="981" y="78" width="2" height="6" fill="#000"/><rect x="983" y="78" width="1" height="7" fill="#000"/><rect x="984" y="77" width="2" height="8" fill="#000"/><rect x="986" y="76" width="2" height="10" fill="#000"/><rect x="1219" y="81" width="25" height="1" fill="#000"/><rect x="1221" y="80" width="2" height="3" fill="#000"/><rect x="1223" y="79" width="1" height="4" fill="#000"/><rect x="1224" y="79" width="2" height="5" fill="#000"/><rect x="1226" y="78" width="2" height="6" fill="#000"/><rect x="1228" y="78" width="1" height="7" fill="#000"/><rect x="1229" y="77" width="2" height="8" fill="#000"/><rect x="1231" y="76" width="2" height="10" fill="#000"/><rect x="1464" y="81" width="25" height="1" fill="#000"/><rect x="1466" y="80" width="2" height="3" fill="#000"/><rect x="1468" y="79" width="1" height="4" fill="#000"/><rect x="1469" y="79" width="2" height="5" fill="#000"/><rect x="1471" y="78" width="2" height="6" fill="#000"/><rect x="1473" y="78" width="1" height="7" fill="#000"/><rect x="1474" y="77" width="2" height="8" fill="#000"/><rect x="1476" y="76" width="2" height="10" fill="#000"/><rect x="1710" y="81" width="25" height="1" fill="#000"/><rect x="1712" y="80" width="2" height="3" fill="#000"/><rect x="1714" y="79" width="1" height="4" fill="#000"/><rect x="1715" y="79" width="2" height="5" fill="#000"/><rect x="1717" y="78" width="2" height="6" fill="#000"/><rect x="1719" y="78" width="1" height="7" fill="#000"/><rect x="1720" y="77" width="2" height="8" fill="#000"/><rect x="1722" y="76" width="2" height="10" fill="#000"/><path d="M752.5,88 C748,118 741,190 735.4,250 C729,320 720,455 712.8,560 C705,670 698,770 692.2,852 C688,915 683,990 679.5,1041" fill="none" stroke="#000" stroke-width="1"/><polygon points="678.4,1056 675,1040.5 684.3,1040.5" fill="#000"/></svg>
<div id="tx">
<div class="t" style="left:-23.2px;top:21.6px;width:300px">TObject</div>
<div class="x" style="left:31.9px;top:82.5px">fUniqueID</div>
<div class="x" style="left:31.9px;top:97.2px">fBits</div>
<div class="x" style="left:31.9px;top:111.8px">fgDtorOnly</div>
<div class="x" style="left:31.9px;top:126.5px">fgObjectStat</div>
<div class="x" style="left:31.9px;top:141.2px">kCanDelete</div>
<div class="x" style="left:31.9px;top:155.8px">kMustCleanup</div>
<div class="x" style="left:31.9px;top:170.5px">kObjInCanvas</div>
<div class="x" style="left:31.9px;top:185.2px">kIsReferenced</div>
<div class="x" style="left:31.9px;top:199.8px">kHasUUID</div>
<div class="x" style="left:31.9px;top:214.5px">kCannotPick</div>
<div class="x" style="left:31.9px;top:229.2px">kNoContextMenu</div>
<div class="x" style="left:31.9px;top:243.8px">kInvalidObject</div>
<div class="x" style="left:31.9px;top:258.5px">kIsOnHeap</div>
<div class="x" style="left:31.9px;top:273.2px">kNotDeleted</div>
<div class="x" style="left:31.9px;top:287.8px">kZombie</div>
<div class="x" style="left:31.9px;top:302.5px">kBitMask</div>
<div class="x" style="left:31.9px;top:317.2px">kSingleKey</div>
<div class="x" style="left:31.9px;top:331.8px">kOverwrite</div>
<div class="x" style="left:31.9px;top:346.5px">kWriteDelete</div>
<div class="x" style="left:31.9px;top:361.2px">fgIsA</div>
<div class="x" style="left:-80.2px;top:82.5px"><span class="z">~</span>TObject</div>
<div class="x" style="left:-80.2px;top:97.2px">MakeZombie</div>
<div class="x" style="left:-80.2px;top:111.8px">DoError</div>
<div class="x" style="left:-80.2px;top:126.5px">TObject</div>
<div class="x" style="left:-80.2px;top:141.2px">operator=</div>
<div class="x" style="left:-80.2px;top:155.8px">AppendPad</div>
<div class="x" style="left:-80.2px;top:170.5px">Browse</div>
<div class="x" style="left:-80.2px;top:185.2px">ClassName</div>
<div class="x" style="left:-80.2px;top:199.8px">Clear</div>
<div class="x" style="left:-80.2px;top:214.5px">Clone</div>
<div class="x" style="left:-80.2px;top:229.2px">Compare</div>
<div class="x" style="left:-80.2px;top:243.8px">Copy</div>
<div class="x" style="left:-80.2px;top:258.5px">Delete</div>
<div class="x" style="left:-80.2px;top:273.2px">DistancetoPrimitive</div>
<div class="x" style="left:-80.2px;top:287.8px">Draw</div>
<div class="x" style="left:-80.2px;top:302.5px">DrawClass</div>
<div class="x" style="left:-80.2px;top:317.2px">DrawClone</div>
<div class="x" style="left:-80.2px;top:331.8px">Dump</div>
<div class="x" style="left:-80.2px;top:346.5px">Execute</div>
<div class="x" style="left:-80.2px;top:361.2px">ExecuteEvent</div>
<div class="x" style="left:-80.2px;top:375.8px">FindObject</div>
<div class="x" style="left:-80.2px;top:390.5px">GetDrawOption</div>
<div class="x" style="left:-80.2px;top:405.2px">GetUniqueID</div>
<div class="x" style="left:-80.2px;top:419.8px">GetName</div>
<div class="x" style="left:-80.2px;top:434.5px">GetIconName</div>
<div class="x" style="left:-80.2px;top:449.2px">GetOption</div>
<div class="x" style="left:-80.2px;top:463.8px">GetObjectInfo</div>
<div class="x" style="left:-80.2px;top:478.5px">GetTitle</div>
<div class="x" style="left:-80.2px;top:493.2px">HandleTimer</div>
<div class="x" style="left:-80.2px;top:507.8px">Hash</div>
<div class="x" style="left:-80.2px;top:522.5px">InheritsFrom</div>
<div class="x" style="left:-80.2px;top:537.2px">Inspect</div>
<div class="x" style="left:-80.2px;top:551.8px">IsFolder</div>
<div class="x" style="left:-80.2px;top:566.5px">IsEqual</div>
<div class="x" style="left:-80.2px;top:581.2px">IsSortable</div>
<div class="x" style="left:-80.2px;top:595.8px">IsOnHeap</div>
<div class="x" style="left:-80.2px;top:610.5px">IsZombie</div>
<div class="x" style="left:-80.2px;top:625.2px">Notify</div>
<div class="x" style="left:-80.2px;top:639.8px">ls</div>
<div class="x" style="left:-80.2px;top:654.5px">Paint</div>
<div class="x" style="left:-80.2px;top:669.2px">Pop</div>
<div class="x" style="left:-80.2px;top:683.8px">Print</div>
<div class="x" style="left:-80.2px;top:698.5px">Read</div>
<div class="x" style="left:-80.2px;top:713.2px">RecursiveRemove</div>
<div class="x" style="left:-80.2px;top:727.8px">SavePrimitive</div>
<div class="x" style="left:-80.2px;top:742.5px">SetDrawOption</div>
<div class="x" style="left:-80.2px;top:757.2px">SetUniqueID</div>
<div class="x" style="left:-80.2px;top:771.8px">UseCurrentStyle</div>
<div class="x" style="left:-80.2px;top:786.5px">Write</div>
<div class="x" style="left:-80.2px;top:801.2px">operator new</div>
<div class="x" style="left:-80.2px;top:815.8px">operator new[]</div>
<div class="x" style="left:-80.2px;top:830.5px">operator delete</div>
<div class="x" style="left:-80.2px;top:845.2px">operator delete[]</div>
<div class="x" style="left:-80.2px;top:859.8px">SetBit</div>
<div class="x" style="left:-80.2px;top:874.5px">ResetBit</div>
<div class="x" style="left:-80.2px;top:889.2px">TestBit</div>
<div class="x" style="left:-80.2px;top:903.8px">TestBits</div>
<div class="x" style="left:-80.2px;top:918.5px">InvertBit</div>
<div class="x" style="left:-80.2px;top:933.2px">Info</div>
<div class="x" style="left:-80.2px;top:947.8px">Warning</div>
<div class="x" style="left:-80.2px;top:962.5px">Error</div>
<div class="x" style="left:-80.2px;top:977.2px">SysError</div>
<div class="x" style="left:-80.2px;top:991.8px">Fatal</div>
<div class="x" style="left:-80.2px;top:1006.5px">AbstractMethod</div>
<div class="x" style="left:-80.2px;top:1021.2px">MayNotUse</div>
<div class="x" style="left:-80.2px;top:1035.8px">GetDtorOnly</div>
<div class="x" style="left:-80.2px;top:1050.5px">SetDtorOnly</div>
<div class="x" style="left:-80.2px;top:1065.2px">GetObjectStat</div>
<div class="x" style="left:-80.2px;top:1079.8px">SetObjectStat</div>
<div class="x" style="left:-80.2px;top:1094.5px">Class</div>
<div class="x" style="left:-80.2px;top:1109.2px">Class_Name</div>
<div class="x" style="left:-80.2px;top:1123.8px">Class_Version</div>
<div class="x" style="left:-80.2px;top:1138.5px">Dictionary</div>
<div class="x" style="left:-80.2px;top:1153.2px">IsA</div>
<div class="x" style="left:-80.2px;top:1167.8px">ShowMembers</div>
<div class="x" style="left:-80.2px;top:1182.5px">Streamer</div>
<div class="x" style="left:-80.2px;top:1197.2px">StreamerNVirtual</div>
<div class="x" style="left:-80.2px;top:1211.8px">DeclFileName</div>
<div class="x" style="left:-80.2px;top:1226.5px">ImplFileLine</div>
<div class="x" style="left:-80.2px;top:1241.2px">ImplFileName</div>
<div class="x" style="left:-80.2px;top:1255.8px">DeclFileLine</div>
<div class="t" style="left:222.3px;top:21.6px;width:300px">TGObject</div>
<div class="x" style="left:277.2px;top:82.5px">fId</div>
<div class="x" style="left:277.2px;top:97.2px">fClient</div>
<div class="x" style="left:277.2px;top:111.8px">fgIsA</div>
<div class="x" style="left:165.2px;top:82.5px"><span class="z">~</span>TGObject</div>
<div class="x" style="left:165.2px;top:97.2px">operator=</div>
<div class="x" style="left:165.2px;top:111.8px">TGObject</div>
<div class="x" style="left:165.2px;top:126.5px">GetId</div>
<div class="x" style="left:165.2px;top:141.2px">GetClient</div>
<div class="x" style="left:165.2px;top:155.8px">Hash</div>
<div class="x" style="left:165.2px;top:170.5px">IsEqual</div>
<div class="x" style="left:165.2px;top:185.2px">Class</div>
<div class="x" style="left:165.2px;top:199.8px">Class_Name</div>
<div class="x" style="left:165.2px;top:214.5px">Class_Version</div>
<div class="x" style="left:165.2px;top:229.2px">Dictionary</div>
<div class="x" style="left:165.2px;top:243.8px">IsA</div>
<div class="x" style="left:165.2px;top:258.5px">ShowMembers</div>
<div class="x" style="left:165.2px;top:273.2px">Streamer</div>
<div class="x" style="left:165.2px;top:287.8px">StreamerNVirtual</div>
<div class="x" style="left:165.2px;top:302.5px">DeclFileName</div>
<div class="x" style="left:165.2px;top:317.2px">ImplFileLine</div>
<div class="x" style="left:165.2px;top:331.8px">ImplFileName</div>
<div class="x" style="left:165.2px;top:346.5px">DeclFileLine</div>
<div class="t" style="left:467.3px;top:21.6px;width:300px">TGWindow</div>
<div class="x" style="left:522.5px;top:82.5px">fParent</div>
<div class="x" style="left:522.5px;top:97.2px">fNeedRedraw</div>
<div class="x" style="left:522.5px;top:111.8px">fName</div>
<div class="x" style="left:522.5px;top:126.5px">fgCounter</div>
<div class="x" style="left:522.5px;top:141.2px">fEditDisabled</div>
<div class="x" style="left:522.5px;top:155.8px">kEditEnable</div>
<div class="x" style="left:522.5px;top:170.5px">kEditDisable</div>
<div class="x" style="left:522.5px;top:185.2px">kEditDisableEvents</div>
<div class="x" style="left:522.5px;top:199.8px">kEditDisableGrab</div>
<div class="x" style="left:522.5px;top:214.5px">kEditDisableLayout</div>
<div class="x" style="left:522.5px;top:229.2px">kEditDisableResize</div>
<div class="x" style="left:522.5px;top:243.8px">kEditDisableHeight</div>
<div class="x" style="left:522.5px;top:258.5px">kEditDisableWidth</div>
<div class="x" style="left:522.5px;top:273.2px">kEditDisableBtnEnable</div>
<div class="x" style="left:522.5px;top:287.8px">kEditDisableKeyEnable</div>
<div class="x" style="left:522.5px;top:302.5px">fgIsA</div>
<div class="x" style="left:410.5px;top:82.5px"><span class="z">~</span>TGWindow</div>
<div class="x" style="left:410.5px;top:97.2px">TGWindow</div>
<div class="x" style="left:410.5px;top:111.8px">operator=</div>
<div class="x" style="left:410.5px;top:126.5px">DoRedraw</div>
<div class="x" style="left:410.5px;top:141.2px">GetParent</div>
<div class="x" style="left:410.5px;top:155.8px">GetMainFrame</div>
<div class="x" style="left:410.5px;top:170.5px">MapWindow</div>
<div class="x" style="left:410.5px;top:185.2px">MapSubwindows</div>
<div class="x" style="left:410.5px;top:199.8px">MapRaised</div>
<div class="x" style="left:410.5px;top:214.5px">UnmapWindow</div>
<div class="x" style="left:410.5px;top:229.2px">DestroyWindow</div>
<div class="x" style="left:410.5px;top:243.8px">DestroySubwindows</div>
<div class="x" style="left:410.5px;top:258.5px">RaiseWindow</div>
<div class="x" style="left:410.5px;top:273.2px">LowerWindow</div>
<div class="x" style="left:410.5px;top:287.8px">IconifyWindow</div>
<div class="x" style="left:410.5px;top:302.5px">ReparentWindow</div>
<div class="x" style="left:410.5px;top:317.2px">RequestFocus</div>
<div class="x" style="left:410.5px;top:331.8px">SetBackgroundColor</div>
<div class="x" style="left:410.5px;top:346.5px">SetBackgroundPixmap</div>
<div class="x" style="left:410.5px;top:361.2px">HandleExpose</div>
<div class="x" style="left:410.5px;top:375.8px">HandleEvent</div>
<div class="x" style="left:410.5px;top:390.5px">HandleTimer</div>
<div class="x" style="left:410.5px;top:405.2px">HandleIdleEvent</div>
<div class="x" style="left:410.5px;top:419.8px">Move</div>
<div class="x" style="left:410.5px;top:434.5px">Resize</div>
<div class="x" style="left:410.5px;top:449.2px">MoveResize</div>
<div class="x" style="left:410.5px;top:463.8px">IsMapped</div>
<div class="x" style="left:410.5px;top:478.5px">IsEditable</div>
<div class="x" style="left:410.5px;top:493.2px">GetEditDisabled</div>
<div class="x" style="left:410.5px;top:507.8px">SetEditDisabled</div>
<div class="x" style="left:410.5px;top:522.5px">SetEditable</div>
<div class="x" style="left:410.5px;top:537.2px">MustCleanup</div>
<div class="x" style="left:410.5px;top:551.8px">Print</div>
<div class="x" style="left:410.5px;top:566.5px">SetWindowName</div>
<div class="x" style="left:410.5px;top:581.2px">GetName</div>
<div class="x" style="left:410.5px;top:595.8px">SetName</div>
<div class="x" style="left:410.5px;top:610.5px">SetMapSubwindows</div>
<div class="x" style="left:410.5px;top:625.2px">IsMapSubwindows</div>
<div class="x" style="left:410.5px;top:639.8px">GetCounter</div>
<div class="x" style="left:410.5px;top:654.5px">Class</div>
<div class="x" style="left:410.5px;top:669.2px">Class_Name</div>
<div class="x" style="left:410.5px;top:683.8px">Class_Version</div>
<div class="x" style="left:410.5px;top:698.5px">Dictionary</div>
<div class="x" style="left:410.5px;top:713.2px">IsA</div>
<div class="x" style="left:410.5px;top:727.8px">ShowMembers</div>
<div class="x" style="left:410.5px;top:742.5px">Streamer</div>
<div class="x" style="left:410.5px;top:757.2px">StreamerNVirtual</div>
<div class="x" style="left:410.5px;top:771.8px">DeclFileName</div>
<div class="x" style="left:410.5px;top:786.5px">ImplFileLine</div>
<div class="x" style="left:410.5px;top:801.2px">ImplFileName</div>
<div class="x" style="left:410.5px;top:815.8px">DeclFileLine</div>
<div class="t" style="left:712.8px;top:21.6px;width:300px">TGFrame</div>
<div class="x" style="left:767.9px;top:82.5px">fX</div>
<div class="x" style="left:767.9px;top:97.2px">fY</div>
<div class="x" style="left:767.9px;top:111.8px">fWidth</div>
<div class="x" style="left:767.9px;top:126.5px">fHeight</div>
<div class="x" style="left:767.9px;top:141.2px">fMinWidth</div>
<div class="x" style="left:767.9px;top:155.8px">fMinHeight</div>
<div class="x" style="left:767.9px;top:170.5px">fMaxWidth</div>
<div class="x" style="left:767.9px;top:185.2px">fMaxHeight</div>
<div class="x" style="left:767.9px;top:199.8px">fBorderWidth</div>
<div class="x" style="left:767.9px;top:214.5px">fOptions</div>
<div class="x" style="left:767.9px;top:229.2px">fBackground</div>
<div class="x" style="left:767.9px;top:243.8px">fEventMask</div>
<div class="x" style="left:767.9px;top:258.5px">fFE</div>
<div class="x" style="left:767.9px;top:273.2px">fgInit</div>
<div class="x" style="left:767.9px;top:287.8px">fgDefaultFrameBackground</div>
<div class="x" style="left:767.9px;top:302.5px"><span style="visibility:hidden">f</span>gDefaultSelectedBackground</div>
<div class="x" style="left:767.9px;top:317.2px">fgWhitePixel</div>
<div class="x" style="left:767.9px;top:331.8px">fgBlackPixel</div>
<div class="x" style="left:767.9px;top:346.5px">fgBlackGC</div>
<div class="x" style="left:767.9px;top:361.2px">fgWhiteGC</div>
<div class="x" style="left:767.9px;top:375.8px">fgHilightGC</div>
<div class="x" style="left:767.9px;top:390.5px">fgShadowGC</div>
<div class="x" style="left:767.9px;top:405.2px">fgBckgndGC</div>
<div class="x" style="left:767.9px;top:419.8px">fgLastClick</div>
<div class="x" style="left:767.9px;top:434.5px">fgLastButton</div>
<div class="x" style="left:767.9px;top:449.2px">fgDbx</div>
<div class="x" style="left:767.9px;top:463.8px">fgDby</div>
<div class="x" style="left:767.9px;top:478.5px">fgDbw</div>
<div class="x" style="left:767.9px;top:493.2px">fgUserColor</div>
<div class="x" style="left:767.9px;top:507.8px">fgIsA</div>
<div class="x" style="left:655.9px;top:82.5px"><span class="z">~</span>TGFrame</div>
<div class="x" style="left:655.9px;top:97.2px">GetLastClick</div>
<div class="x" style="left:655.9px;top:111.8px">GetSender</div>
<div class="x" style="left:655.9px;top:126.5px">Draw3dRectangle</div>
<div class="x" style="left:655.9px;top:141.2px">DoRedraw</div>
<div class="x" style="left:655.9px;top:155.8px">GetResourcePool</div>
<div class="x" style="left:655.9px;top:170.5px">GetOptionString</div>
<div class="x" style="left:655.9px;top:185.2px">StartGuiBuilding</div>
<div class="x" style="left:655.9px;top:199.8px">TGFrame</div>
<div class="x" style="left:655.9px;top:214.5px">operator=</div>
<div class="x" style="left:655.9px;top:229.2px">GetDefaultFrameBackground</div>
<div class="x" style="left:655.9px;top:243.8px">GetDefaultSelectedBackground</div>
<div class="x" style="left:655.9px;top:258.5px">GetWhitePixel</div>
<div class="x" style="left:655.9px;top:273.2px">GetBlackPixel</div>
<div class="x" style="left:655.9px;top:287.8px">GetBlackGC</div>
<div class="x" style="left:655.9px;top:302.5px">GetWhiteGC</div>
<div class="x" style="left:655.9px;top:317.2px">GetHilightGC</div>
<div class="x" style="left:655.9px;top:331.8px">GetShadowGC</div>
<div class="x" style="left:655.9px;top:346.5px">GetBckgndGC</div>
<div class="x" style="left:655.9px;top:361.2px">DeleteWindow</div>
<div class="x" style="left:655.9px;top:375.8px">ReallyDelete</div>
<div class="x" style="left:655.9px;top:390.5px">GetEventMask</div>
<div class="x" style="left:655.9px;top:405.2px">AddInput</div>
<div class="x" style="left:655.9px;top:419.8px">RemoveInput</div>
<div class="x" style="left:655.9px;top:434.5px">HandleEvent</div>
<div class="x" style="left:655.9px;top:449.2px">HandleConfigureNotify</div>
<div class="x" style="left:655.9px;top:463.8px">HandleButton</div>
<div class="x" style="left:655.9px;top:478.5px">HandleDoubleClick</div>
<div class="x" style="left:655.9px;top:493.2px">HandleCrossing</div>
<div class="x" style="left:655.9px;top:507.8px">HandleMotion</div>
<div class="x" style="left:655.9px;top:522.5px">HandleKey</div>
<div class="x" style="left:655.9px;top:537.2px">HandleFocusChange</div>
<div class="x" style="left:655.9px;top:551.8px">HandleClientMessage</div>
<div class="x" style="left:655.9px;top:566.5px">HandleSelection</div>
<div class="x" style="left:655.9px;top:581.2px">HandleSelectionRequest</div>
<div class="x" style="left:655.9px;top:595.8px">HandleSelectionClear</div>
<div class="x" style="left:655.9px;top:610.5px">HandleColormapChange</div>
<div class="x" style="left:655.9px;top:625.2px">HandleDragEnter</div>
<div class="x" style="left:655.9px;top:639.8px">HandleDragLeave</div>
<div class="x" style="left:655.9px;top:654.5px">HandleDragMotion</div>
<div class="x" style="left:655.9px;top:669.2px">HandleDragDrop</div>
<div class="x" style="left:655.9px;top:683.8px">ProcessedEvent</div>
<div class="x" style="left:655.9px;top:698.5px">SendMessage</div>
<div class="x" style="left:655.9px;top:713.2px">ProcessMessage</div>
<div class="x" style="left:655.9px;top:727.8px">GetDefaultSize</div>
<div class="x" style="left:655.9px;top:742.5px">Move</div>
<div class="x" style="left:655.9px;top:757.2px">Resize</div>
<div class="x" style="left:655.9px;top:771.8px">MoveResize</div>
<div class="x" style="left:655.9px;top:786.5px">GetDefaultWidth</div>
<div class="x" style="left:655.9px;top:801.2px">GetDefaultHeight</div>
<div class="x" style="left:655.9px;top:815.8px">GetBackground</div>
<div class="x" style="left:655.9px;top:830.5px">ChangeBackground</div>
<div class="x" style="left:655.9px;top:845.2px">SetBackgroundColor</div>
<div class="x" style="left:655.9px;top:859.8px">GetForeground</div>
<div class="x" style="left:655.9px;top:874.5px">SetForegroundColor</div>
<div class="x" style="left:655.9px;top:889.2px">GetOptions</div>
<div class="x" style="left:655.9px;top:903.8px">ChangeOptions</div>
<div class="x" style="left:655.9px;top:918.5px">Layout</div>
<div class="x" style="left:655.9px;top:933.2px">MapSubwindows</div>
<div class="x" style="left:655.9px;top:947.8px">ReparentWindow</div>
<div class="x" style="left:655.9px;top:962.5px">MapWindow</div>
<div class="x" style="left:655.9px;top:977.2px">MapRaised</div>
<div class="x" style="left:655.9px;top:991.8px">UnmapWindow</div>
<div class="x" style="left:655.9px;top:1006.5px">DrawBorder</div>
<div class="x" style="left:655.9px;top:1021.2px">DrawCopy</div>
<div class="x" style="left:655.9px;top:1035.8px">Activate</div>
<div class="x" style="left:655.9px;top:1050.5px">IsActive</div>
<div class="x" style="left:655.9px;top:1065.2px">IsComposite</div>
<div class="x" style="left:655.9px;top:1079.8px">IsEditable</div>
<div class="x" style="left:655.9px;top:1094.5px">SetEditable</div>
<div class="x" style="left:655.9px;top:1109.2px">SetLayoutBroken</div>
<div class="x" style="left:655.9px;top:1123.8px">IsLayoutBroken</div>
<div class="x" style="left:655.9px;top:1138.5px">SetCleanup</div>
<div class="x" style="left:655.9px;top:1153.2px">SetDragType</div>
<div class="x" style="left:655.9px;top:1167.8px">SetDropType</div>
<div class="x" style="left:655.9px;top:1182.5px">GetDragType</div>
<div class="x" style="left:655.9px;top:1197.2px">GetDropType</div>
<div class="x" style="left:655.9px;top:1211.8px">GetWidth</div>
<div class="x" style="left:655.9px;top:1226.5px">GetHeight</div>
<div class="x" style="left:655.9px;top:1241.2px">GetMinWidth</div>
<div class="x" style="left:655.9px;top:1255.8px">GetMinHeight</div>
<div class="x" style="left:655.9px;top:1270.5px">GetMaxWidth</div>
<div class="x" style="left:655.9px;top:1285.2px">GetMaxHeight</div>
<div class="x" style="left:655.9px;top:1299.8px">GetSize</div>
<div class="x" style="left:655.9px;top:1314.5px">GetX</div>
<div class="x" style="left:655.9px;top:1329.2px">GetY</div>
<div class="x" style="left:655.9px;top:1343.8px">GetBorderWidth</div>
<div class="x" style="left:655.9px;top:1358.5px">GetFrameElement</div>
<div class="x" style="left:655.9px;top:1373.2px">SetFrameElement</div>
<div class="x" style="left:655.9px;top:1387.8px">Contains</div>
<div class="x" style="left:655.9px;top:1402.5px">GetFrameFromPoint</div>
<div class="x" style="left:655.9px;top:1417.2px">SetX</div>
<div class="x" style="left:655.9px;top:1431.8px">SetY</div>
<div class="x" style="left:655.9px;top:1446.5px">SetWidth</div>
<div class="x" style="left:655.9px;top:1461.2px">SetHeight</div>
<div class="x" style="left:655.9px;top:1475.8px">SetMinWidth</div>
<div class="x" style="left:655.9px;top:1490.5px">SetMinHeight</div>
<div class="x" style="left:655.9px;top:1505.2px">SetMaxWidth</div>
<div class="x" style="left:655.9px;top:1519.8px">SetMaxHeight</div>
<div class="x" style="left:655.9px;top:1534.5px">SetSize</div>
<div class="x" style="left:655.9px;top:1549.2px">Print</div>
<div class="x" style="left:655.9px;top:1563.8px">SaveUserColor</div>
<div class="x" style="left:655.9px;top:1578.5px">SavePrimitive</div>
<div class="x" style="left:655.9px;top:1593.2px">Delete</div>
<div class="x" style="left:655.9px;top:1607.8px">DrawClone</div>
<div class="x" style="left:655.9px;top:1622.5px">DrawClass</div>
<div class="x" style="left:655.9px;top:1637.2px">Dump</div>
<div class="x" style="left:655.9px;top:1651.8px">Inspect</div>
<div class="x" style="left:655.9px;top:1666.5px">SetDrawOption</div>
<div class="x" style="left:655.9px;top:1681.2px">Class</div>
<div class="x" style="left:655.9px;top:1695.8px">Class_Name</div>
<div class="x" style="left:655.9px;top:1710.5px">Class_Version</div>
<div class="x" style="left:655.9px;top:1725.2px">Dictionary</div>
<div class="x" style="left:655.9px;top:1739.8px">IsA</div>
<div class="x" style="left:655.9px;top:1754.5px">ShowMembers</div>
<div class="x" style="left:655.9px;top:1769.2px">Streamer</div>
<div class="x" style="left:655.9px;top:1783.8px">StreamerNVirtual</div>
<div class="x" style="left:655.9px;top:1798.5px">DeclFileName</div>
<div class="x" style="left:655.9px;top:1813.2px">ImplFileLine</div>
<div class="x" style="left:655.9px;top:1827.8px">ImplFileName</div>
<div class="x" style="left:655.9px;top:1842.5px">DeclFileLine</div>
<div class="t" style="left:958.3px;top:21.6px;width:300px">TGCompositeFrame</div>
<div class="x" style="left:1013.2px;top:82.5px">fLayoutManager</div>
<div class="x" style="left:1013.2px;top:97.2px">fList</div>
<div class="x" style="left:1013.2px;top:111.8px">fLayoutBroken</div>
<div class="x" style="left:1013.2px;top:126.5px">fMustCleanup</div>
<div class="x" style="left:1013.2px;top:141.2px">fMapSubwindows</div>
<div class="x" style="left:1013.2px;top:155.8px">fgDefaultHints</div>
<div class="x" style="left:1013.2px;top:170.5px">fgIsA</div>
<div class="x" style="left:901.2px;top:82.5px"><span class="z">~</span>TGCompositeFrame</div>
<div class="x" style="left:901.2px;top:97.2px">TGCompositeFrame</div>
<div class="x" style="left:901.2px;top:111.8px">operator=</div>
<div class="x" style="left:901.2px;top:126.5px">GetList</div>
<div class="x" style="left:901.2px;top:141.2px">GetDefaultWidth</div>
<div class="x" style="left:901.2px;top:155.8px">GetDefaultHeight</div>
<div class="x" style="left:901.2px;top:170.5px">GetDefaultSize</div>
<div class="x" style="left:901.2px;top:185.2px">GetFrameFromPoint</div>
<div class="x" style="left:901.2px;top:199.8px">TranslateCoordinates</div>
<div class="x" style="left:901.2px;top:214.5px">MapSubwindows</div>
<div class="x" style="left:901.2px;top:229.2px">Layout</div>
<div class="x" style="left:901.2px;top:243.8px">HandleButton</div>
<div class="x" style="left:901.2px;top:258.5px">HandleDoubleClick</div>
<div class="x" style="left:901.2px;top:273.2px">HandleCrossing</div>
<div class="x" style="left:901.2px;top:287.8px">HandleMotion</div>
<div class="x" style="left:901.2px;top:302.5px">HandleKey</div>
<div class="x" style="left:901.2px;top:317.2px">HandleFocusChange</div>
<div class="x" style="left:901.2px;top:331.8px">HandleSelection</div>
<div class="x" style="left:901.2px;top:346.5px">HandleDragEnter</div>
<div class="x" style="left:901.2px;top:361.2px">HandleDragLeave</div>
<div class="x" style="left:901.2px;top:375.8px">HandleDragMotion</div>
<div class="x" style="left:901.2px;top:390.5px">HandleDragDrop</div>
<div class="x" style="left:901.2px;top:405.2px">ChangeOptions</div>
<div class="x" style="left:901.2px;top:419.8px">ProcessMessage</div>
<div class="x" style="left:901.2px;top:434.5px">GetLayoutManager</div>
<div class="x" style="left:901.2px;top:449.2px">SetLayoutManager</div>
<div class="x" style="left:901.2px;top:463.8px">AddFrame</div>
<div class="x" style="left:901.2px;top:478.5px">RemoveFrame</div>
<div class="x" style="left:901.2px;top:493.2px">ShowFrame</div>
<div class="x" style="left:901.2px;top:507.8px">HideFrame</div>
<div class="x" style="left:901.2px;top:522.5px">GetState</div>
<div class="x" style="left:901.2px;top:537.2px">IsVisible</div>
<div class="x" style="left:901.2px;top:551.8px">IsArranged</div>
<div class="x" style="left:901.2px;top:566.5px">IsComposite</div>
<div class="x" style="left:901.2px;top:581.2px">IsEditable</div>
<div class="x" style="left:901.2px;top:595.8px">SetEditable</div>
<div class="x" style="left:901.2px;top:610.5px">SetLayoutBroken</div>
<div class="x" style="left:901.2px;top:625.2px">IsLayoutBroken</div>
<div class="x" style="left:901.2px;top:639.8px">SetEditDisabled</div>
<div class="x" style="left:901.2px;top:654.5px">SetCleanup</div>
<div class="x" style="left:901.2px;top:669.2px">MustCleanup</div>
<div class="x" style="left:901.2px;top:683.8px">Cleanup</div>
<div class="x" style="left:901.2px;top:698.5px">SetMapSubwindows</div>
<div class="x" style="left:901.2px;top:713.2px">IsMapSubwindows</div>
<div class="x" style="left:901.2px;top:727.8px">Print</div>
<div class="x" style="left:901.2px;top:742.5px">ChangeSubframesBackground</div>
<div class="x" style="left:901.2px;top:757.2px">SavePrimitive</div>
<div class="x" style="left:901.2px;top:771.8px">SavePrimitiveSubframes</div>
<div class="x" style="left:901.2px;top:786.5px">Class</div>
<div class="x" style="left:901.2px;top:801.2px">Class_Name</div>
<div class="x" style="left:901.2px;top:815.8px">Class_Version</div>
<div class="x" style="left:901.2px;top:830.5px">Dictionary</div>
<div class="x" style="left:901.2px;top:845.2px">IsA</div>
<div class="x" style="left:901.2px;top:859.8px">ShowMembers</div>
<div class="x" style="left:901.2px;top:874.5px">Streamer</div>
<div class="x" style="left:901.2px;top:889.2px">StreamerNVirtual</div>
<div class="x" style="left:901.2px;top:903.8px">DeclFileName</div>
<div class="x" style="left:901.2px;top:918.5px">ImplFileLine</div>
<div class="x" style="left:901.2px;top:933.2px">ImplFileName</div>
<div class="x" style="left:901.2px;top:947.8px">DeclFileLine</div>
<div class="t" style="left:1203.3px;top:21.6px;width:300px">TGedFrame</div>
<div class="x" style="left:1258.5px;top:82.5px">fInit</div>
<div class="x" style="left:1258.5px;top:97.2px">fGedEditor</div>
<div class="x" style="left:1258.5px;top:111.8px">fModelClass</div>
<div class="x" style="left:1258.5px;top:126.5px">fLayoutHints</div>
<div class="x" style="left:1258.5px;top:141.2px">fAvoidSignal</div>
<div class="x" style="left:1258.5px;top:155.8px">fExtraTabs</div>
<div class="x" style="left:1258.5px;top:170.5px">fPriority</div>
<div class="x" style="left:1258.5px;top:185.2px">fgIsA</div>
<div class="x" style="left:1146.5px;top:82.5px"><span class="z">~</span>TGedFrame</div>
<div class="x" style="left:1146.5px;top:97.2px">operator=</div>
<div class="x" style="left:1146.5px;top:111.8px">MakeTitle</div>
<div class="x" style="left:1146.5px;top:126.5px">Update</div>
<div class="x" style="left:1146.5px;top:141.2px">GetDrawOption</div>
<div class="x" style="left:1146.5px;top:155.8px">GetLayoutHints</div>
<div class="x" style="left:1146.5px;top:170.5px">GetModelClass</div>
<div class="x" style="left:1146.5px;top:185.2px">GetPriority</div>
<div class="x" style="left:1146.5px;top:199.8px">GetExtraTabs</div>
<div class="x" style="left:1146.5px;top:214.5px">GetGedEditor</div>
<div class="x" style="left:1146.5px;top:229.2px">AddExtraTab</div>
<div class="x" style="left:1146.5px;top:243.8px">CreateEditorTabSubFrame</div>
<div class="x" style="left:1146.5px;top:258.5px">Refresh</div>
<div class="x" style="left:1146.5px;top:273.2px">SetDrawOption</div>
<div class="x" style="left:1146.5px;top:287.8px">AcceptModel</div>
<div class="x" style="left:1146.5px;top:302.5px">SetModelClass</div>
<div class="x" style="left:1146.5px;top:317.2px">SetModel</div>
<div class="x" style="left:1146.5px;top:331.8px">SetGedEditor</div>
<div class="x" style="left:1146.5px;top:346.5px">ActivateBaseClassEditors</div>
<div class="x" style="left:1146.5px;top:361.2px">Class</div>
<div class="x" style="left:1146.5px;top:375.8px">Class_Name</div>
<div class="x" style="left:1146.5px;top:390.5px">Class_Version</div>
<div class="x" style="left:1146.5px;top:405.2px">Dictionary</div>
<div class="x" style="left:1146.5px;top:419.8px">IsA</div>
<div class="x" style="left:1146.5px;top:434.5px">ShowMembers</div>
<div class="x" style="left:1146.5px;top:449.2px">Streamer</div>
<div class="x" style="left:1146.5px;top:463.8px">StreamerNVirtual</div>
<div class="x" style="left:1146.5px;top:478.5px">DeclFileName</div>
<div class="x" style="left:1146.5px;top:493.2px">ImplFileLine</div>
<div class="x" style="left:1146.5px;top:507.8px">ImplFileName</div>
<div class="x" style="left:1146.5px;top:522.5px">DeclFileLine</div>
<div class="t" style="left:1448.8px;top:21.6px;width:300px">TGeoGedFrame</div>
<div class="x" style="left:1503.9px;top:82.5px">fTab</div>
<div class="x" style="left:1503.9px;top:97.2px">fTabMgr</div>
<div class="x" style="left:1503.9px;top:111.8px">fPad</div>
<div class="x" style="left:1503.9px;top:126.5px">fgIsA</div>
<div class="x" style="left:1391.9px;top:82.5px"><span class="z">~</span>TGeoGedFrame</div>
<div class="x" style="left:1391.9px;top:97.2px">SetActive</div>
<div class="x" style="left:1391.9px;top:111.8px">Update</div>
<div class="x" style="left:1391.9px;top:126.5px">Class</div>
<div class="x" style="left:1391.9px;top:141.2px">Class_Name</div>
<div class="x" style="left:1391.9px;top:155.8px">Class_Version</div>
<div class="x" style="left:1391.9px;top:170.5px">Dictionary</div>
<div class="x" style="left:1391.9px;top:185.2px">IsA</div>
<div class="x" style="left:1391.9px;top:199.8px">ShowMembers</div>
<div class="x" style="left:1391.9px;top:214.5px">Streamer</div>
<div class="x" style="left:1391.9px;top:229.2px">StreamerNVirtual</div>
<div class="x" style="left:1391.9px;top:243.8px">DeclFileName</div>
<div class="x" style="left:1391.9px;top:258.5px">ImplFileLine</div>
<div class="x" style="left:1391.9px;top:273.2px">ImplFileName</div>
<div class="x" style="left:1391.9px;top:287.8px">DeclFileLine</div>
<div class="t" style="left:1694.3px;top:21.6px;width:300px">TGeoVolumeEditor</div>
<div class="x" style="left:1749.2px;top:82.5px">fGeometry</div>
<div class="x" style="left:1749.2px;top:97.2px">fVolume</div>
<div class="x" style="left:1749.2px;top:111.8px">fIsModified</div>
<div class="x" style="left:1749.2px;top:126.5px">fIsAssembly</div>
<div class="x" style="left:1749.2px;top:141.2px">fIsDivided</div>
<div class="x" style="left:1749.2px;top:155.8px">fCategories</div>
<div class="x" style="left:1749.2px;top:170.5px">fVolumeName</div>
<div class="x" style="left:1749.2px;top:185.2px">fSelectedShape</div>
<div class="x" style="left:1749.2px;top:199.8px">fLSelShape</div>
<div class="x" style="left:1749.2px;top:214.5px">fBSelShape</div>
<div class="x" style="left:1749.2px;top:229.2px">fSelectedMedium</div>
<div class="x" style="left:1749.2px;top:243.8px">fLSelMedium</div>
<div class="x" style="left:1749.2px;top:258.5px">fBSelMedium</div>
<div class="x" style="left:1749.2px;top:273.2px">fSelectedVolume</div>
<div class="x" style="left:1749.2px;top:287.8px">fLSelVolume</div>
<div class="x" style="left:1749.2px;top:302.5px">fBSelVolume</div>
<div class="x" style="left:1749.2px;top:317.2px">fSelectedMatrix</div>
<div class="x" style="left:1749.2px;top:331.8px">fLSelMatrix</div>
<div class="x" style="left:1749.2px;top:346.5px">fBSelMatrix</div>
<div class="x" style="left:1749.2px;top:361.2px">fCopyNumber</div>
<div class="x" style="left:1749.2px;top:375.8px">fAddNode</div>
<div class="x" style="left:1749.2px;top:390.5px">fEditShape</div>
<div class="x" style="left:1749.2px;top:405.2px">fEditMedium</div>
<div class="x" style="left:1749.2px;top:419.8px">fNodeList</div>
<div class="x" style="left:1749.2px;top:434.5px">fEditMatrix</div>
<div class="x" style="left:1749.2px;top:449.2px">fRemoveNode</div>
<div class="x" style="left:1749.2px;top:463.8px">fBVis</div>
<div class="x" style="left:1749.2px;top:478.5px">fBView</div>
<div class="x" style="left:1749.2px;top:493.2px">fBRaytrace</div>
<div class="x" style="left:1749.2px;top:507.8px">fBAuto</div>
<div class="x" style="left:1749.2px;top:522.5px">fEVisLevel</div>
<div class="x" style="left:1749.2px;top:537.2px">fApplyDiv</div>
<div class="x" style="left:1749.2px;top:551.8px">fDivName</div>
<div class="x" style="left:1749.2px;top:566.5px">fBDiv</div>
<div class="x" style="left:1749.2px;top:581.2px">fEDivFrom</div>
<div class="x" style="left:1749.2px;top:595.8px">fEDivStep</div>
<div class="x" style="left:1749.2px;top:610.5px">fEDivN</div>
<div class="x" style="left:1749.2px;top:625.2px">fgIsA</div>
<div class="x" style="left:1637.2px;top:82.5px"><span class="z">~</span>TGeoVolumeEditor</div>
<div class="x" style="left:1637.2px;top:97.2px">ConnectSignals2Slots</div>
<div class="x" style="left:1637.2px;top:111.8px">TGeoVolumeEditor</div>
<div class="x" style="left:1637.2px;top:126.5px">SetModel</div>
<div class="x" style="left:1637.2px;top:141.2px">ActivateBaseClassEditors</div>
<div class="x" style="left:1637.2px;top:155.8px">DoAddNode</div>
<div class="x" style="left:1637.2px;top:170.5px">DoVolumeName</div>
<div class="x" style="left:1637.2px;top:185.2px">DoSelectShape</div>
<div class="x" style="left:1637.2px;top:199.8px">DoSelectMedium</div>
<div class="x" style="left:1637.2px;top:214.5px">DoSelectMatrix</div>
<div class="x" style="left:1637.2px;top:229.2px">DoSelectVolume</div>
<div class="x" style="left:1637.2px;top:243.8px">DoEditShape</div>
<div class="x" style="left:1637.2px;top:258.5px">DoEditMedium</div>
<div class="x" style="left:1637.2px;top:273.2px">DoEditMatrix</div>
<div class="x" style="left:1637.2px;top:287.8px">DoRemoveNode</div>
<div class="x" style="left:1637.2px;top:302.5px">DoVisVolume</div>
<div class="x" style="left:1637.2px;top:317.2px">DoVisDaughters</div>
<div class="x" style="left:1637.2px;top:331.8px">DoVisAuto</div>
<div class="x" style="left:1637.2px;top:346.5px">DoVisLevel</div>
<div class="x" style="left:1637.2px;top:361.2px">DoViewAll</div>
<div class="x" style="left:1637.2px;top:375.8px">DoViewLeaves</div>
<div class="x" style="left:1637.2px;top:390.5px">DoViewOnly</div>
<div class="x" style="left:1637.2px;top:405.2px">DoDivSelAxis</div>
<div class="x" style="left:1637.2px;top:419.8px">DoDivFromTo</div>
<div class="x" style="left:1637.2px;top:434.5px">DoDivStep</div>
<div class="x" style="left:1637.2px;top:449.2px">DoDivN</div>
<div class="x" style="left:1637.2px;top:463.8px">DoDivName</div>
<div class="x" style="left:1637.2px;top:478.5px">DoApplyDiv</div>
<div class="x" style="left:1637.2px;top:493.2px">DoRaytrace</div>
<div class="x" style="left:1637.2px;top:507.8px">Class</div>
<div class="x" style="left:1637.2px;top:522.5px">Class_Name</div>
<div class="x" style="left:1637.2px;top:537.2px">Class_Version</div>
<div class="x" style="left:1637.2px;top:551.8px">Dictionary</div>
<div class="x" style="left:1637.2px;top:566.5px">IsA</div>
<div class="x" style="left:1637.2px;top:581.2px">ShowMembers</div>
<div class="x" style="left:1637.2px;top:595.8px">Streamer</div>
<div class="x" style="left:1637.2px;top:610.5px">StreamerNVirtual</div>
<div class="x" style="left:1637.2px;top:625.2px">DeclFileName</div>
<div class="x" style="left:1637.2px;top:639.8px">ImplFileLine</div>
<div class="x" style="left:1637.2px;top:654.5px">ImplFileName</div>
<div class="x" style="left:1637.2px;top:669.2px">DeclFileLine</div>
<div class="t" style="left:466.3px;top:1059.3px;width:300px">TQObject</div>
<div class="x" style="left:522.5px;top:1121.2px">fListOfSignals</div>
<div class="x" style="left:522.5px;top:1135.8px">fListOfConnections</div>
<div class="x" style="left:522.5px;top:1150.5px">fgIsA</div>
<div class="x" style="left:410.5px;top:1121.2px"><span class="z">~</span>TQObject</div>
<div class="x" style="left:410.5px;top:1135.8px">GetSender</div>
<div class="x" style="left:410.5px;top:1150.5px">GetSenderClassName</div>
<div class="x" style="left:410.5px;top:1165.2px">ConnectToClass</div>
<div class="x" style="left:410.5px;top:1179.8px">CheckConnectArgs</div>
<div class="x" style="left:410.5px;top:1194.5px">TQObject</div>
<div class="x" style="left:410.5px;top:1209.2px">operator=</div>
<div class="x" style="left:410.5px;top:1223.8px">GetListOfClassSignals</div>
<div class="x" style="left:410.5px;top:1238.5px">GetListOfSignals</div>
<div class="x" style="left:410.5px;top:1253.2px">GetListOfConnections</div>
<div class="x" style="left:410.5px;top:1267.8px">EmitVA</div>
<div class="x" style="left:410.5px;top:1282.5px">Emit</div>
<div class="x" style="left:410.5px;top:1297.2px">Connect</div>
<div class="x" style="left:410.5px;top:1311.8px">Disconnect</div>
<div class="x" style="left:410.5px;top:1326.5px">HighPriority</div>
<div class="x" style="left:410.5px;top:1341.2px">LowPriority</div>
<div class="x" style="left:410.5px;top:1355.8px">HasConnection</div>
<div class="x" style="left:410.5px;top:1370.5px">NumberOfSignals</div>
<div class="x" style="left:410.5px;top:1385.2px">NumberOfConnections</div>
<div class="x" style="left:410.5px;top:1399.8px">Connected</div>
<div class="x" style="left:410.5px;top:1414.5px">Disconnected</div>
<div class="x" style="left:410.5px;top:1429.2px">Destroyed</div>
<div class="x" style="left:410.5px;top:1443.8px">ChangedBy</div>
<div class="x" style="left:410.5px;top:1458.5px">Message</div>
<div class="x" style="left:410.5px;top:1473.2px">LoadRQ_OBJECT</div>
<div class="x" style="left:410.5px;top:1487.8px">Class</div>
<div class="x" style="left:410.5px;top:1502.5px">Class_Name</div>
<div class="x" style="left:410.5px;top:1517.2px">Class_Version</div>
<div class="x" style="left:410.5px;top:1531.8px">Dictionary</div>
<div class="x" style="left:410.5px;top:1546.5px">IsA</div>
<div class="x" style="left:410.5px;top:1561.2px">ShowMembers</div>
<div class="x" style="left:410.5px;top:1575.8px">Streamer</div>
<div class="x" style="left:410.5px;top:1590.5px">StreamerNVirtual</div>
<div class="x" style="left:410.5px;top:1605.2px">DeclFileName</div>
<div class="x" style="left:410.5px;top:1619.8px">ImplFileLine</div>
<div class="x" style="left:410.5px;top:1634.5px">ImplFileName</div>
<div class="x" style="left:410.5px;top:1649.2px">DeclFileLine</div>
</div>
</body></html>
